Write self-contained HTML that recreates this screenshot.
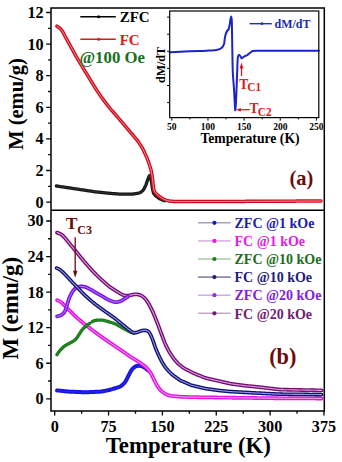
<!DOCTYPE html>
<html><head><meta charset="utf-8"><style>
html,body{margin:0;padding:0;background:#fff;width:342px;height:462px;overflow:hidden}
svg{display:block}
.b{font-family:"Liberation Serif",serif;font-weight:bold}
</style></head><body>
<svg width="342" height="462" viewBox="0 0 342 462">
<rect width="342" height="462" fill="#fff"/>
<path d="M56.4,186 L57.14,186.11 L57.88,186.22 L58.63,186.33 L59.37,186.44 L60.11,186.55 L60.85,186.65 L61.59,186.76 L62.34,186.87 L63.08,186.98 L63.82,187.09 L64.56,187.2 L65.3,187.31 L66.05,187.42 L66.79,187.53 L67.53,187.64 L68.27,187.75 L69.01,187.86 L69.75,187.98 L70.5,188.09 L71.24,188.2 L71.98,188.31 L72.72,188.42 L73.46,188.53 L74.2,188.65 L74.95,188.76 L75.69,188.87 L76.43,188.98 L77.17,189.09 L77.91,189.2 L78.65,189.32 L79.4,189.43 L80.14,189.54 L80.88,189.65 L81.62,189.76 L82.36,189.87 L83.1,189.98 L83.85,190.1 L84.59,190.21 L85.33,190.32 L86.07,190.43 L86.81,190.54 L87.55,190.65 L88.3,190.76 L89.04,190.87 L89.78,190.98 L90.52,191.1 L91.26,191.21 L92.01,191.32 L92.75,191.43 L93.49,191.54 L94.23,191.65 L94.97,191.76 L95.72,191.86 L96.46,191.95 L97.21,192.03 L97.95,192.11 L98.7,192.19 L99.44,192.26 L100.19,192.34 L100.94,192.42 L101.68,192.49 L102.43,192.57 L103.17,192.65 L103.92,192.72 L104.67,192.8 L105.41,192.88 L106.16,192.95 L106.9,193.03 L107.65,193.11 L108.4,193.18 L109.14,193.26 L109.89,193.33 L110.64,193.4 L111.38,193.46 L112.13,193.52 L112.88,193.58 L113.63,193.64 L114.37,193.7 L115.12,193.75 L115.87,193.81 L116.62,193.87 L117.37,193.92 L118.11,193.98 L118.86,194.04 L119.61,194.09 L120.36,194.14 L121.11,194.17 L121.85,194.19 L122.6,194.2 L123.35,194.2 L124.1,194.2 L124.85,194.2 L125.6,194.2 L126.35,194.2 L127.1,194.2 L127.85,194.2 L128.6,194.2 L129.35,194.2 L130.1,194.2 L130.85,194.18 L131.6,194.15 L132.35,194.08 L133.09,193.99 L133.83,193.9 L134.58,193.8 L135.32,193.69 L136.06,193.59 L136.8,193.48 L137.54,193.34 L138.27,193.18 L138.99,192.99 L139.7,192.76 L140.36,192.46 L140.98,192.08 L141.57,191.62 L142.13,191.13 L142.67,190.61 L143.17,190.07 L143.61,189.48 L143.99,188.84 L144.34,188.18 L144.67,187.51 L145,186.84 L145.32,186.16 L145.63,185.48 L145.92,184.79 L146.19,184.09 L146.44,183.38 L146.69,182.68 L146.94,181.97 L147.19,181.26 L147.44,180.55 L147.69,179.85 L147.95,179.14 L148.22,178.44 L148.5,177.75 L148.79,177.07 L149.09,176.43 L149.39,175.93 L149.67,175.74 L149.93,175.95 L150.17,176.48 L150.41,177.14 L150.64,177.85 L150.86,178.56 L151.05,179.29 L151.2,180.02 L151.33,180.76 L151.44,181.5 L151.55,182.24 L151.66,182.98 L151.77,183.72 L151.88,184.47 L151.99,185.21 L152.1,185.95 L152.22,186.69 L152.34,187.43 L152.47,188.17 L152.61,188.9 L152.75,189.64 L152.9,190.38 L153.04,191.11 L153.19,191.84 L153.37,192.56 L153.62,193.24 L153.99,193.86 L154.44,194.44 L154.94,194.98 L155.46,195.52 L156,196.04 L156.56,196.53 L157.15,197 L157.76,197.44 L158.37,197.86 L158.99,198.28 L159.62,198.68 L160.28,199.02 L160.96,199.32 L161.66,199.59 L162.37,199.85 L163.07,200.11 L163.78,200.36 L164.48,200.61 L164.95,200.78" fill="none" stroke="#151515" stroke-width="3.3" stroke-linecap="round" stroke-linejoin="round"/><path d="M56.4,186 L57.14,186.11 L57.88,186.22 L58.63,186.33 L59.37,186.44 L60.11,186.55 L60.85,186.65 L61.59,186.76 L62.34,186.87 L63.08,186.98 L63.82,187.09 L64.56,187.2 L65.3,187.31 L66.05,187.42 L66.79,187.53 L67.53,187.64 L68.27,187.75 L69.01,187.86 L69.75,187.98 L70.5,188.09 L71.24,188.2 L71.98,188.31 L72.72,188.42 L73.46,188.53 L74.2,188.65 L74.95,188.76 L75.69,188.87 L76.43,188.98 L77.17,189.09 L77.91,189.2 L78.65,189.32 L79.4,189.43 L80.14,189.54 L80.88,189.65 L81.62,189.76 L82.36,189.87 L83.1,189.98 L83.85,190.1 L84.59,190.21 L85.33,190.32 L86.07,190.43 L86.81,190.54 L87.55,190.65 L88.3,190.76 L89.04,190.87 L89.78,190.98 L90.52,191.1 L91.26,191.21 L92.01,191.32 L92.75,191.43 L93.49,191.54 L94.23,191.65 L94.97,191.76 L95.72,191.86 L96.46,191.95 L97.21,192.03 L97.95,192.11 L98.7,192.19 L99.44,192.26 L100.19,192.34 L100.94,192.42 L101.68,192.49 L102.43,192.57 L103.17,192.65 L103.92,192.72 L104.67,192.8 L105.41,192.88 L106.16,192.95 L106.9,193.03 L107.65,193.11 L108.4,193.18 L109.14,193.26 L109.89,193.33 L110.64,193.4 L111.38,193.46 L112.13,193.52 L112.88,193.58 L113.63,193.64 L114.37,193.7 L115.12,193.75 L115.87,193.81 L116.62,193.87 L117.37,193.92 L118.11,193.98 L118.86,194.04 L119.61,194.09 L120.36,194.14 L121.11,194.17 L121.85,194.19 L122.6,194.2 L123.35,194.2 L124.1,194.2 L124.85,194.2 L125.6,194.2 L126.35,194.2 L127.1,194.2 L127.85,194.2 L128.6,194.2 L129.35,194.2 L130.1,194.2 L130.85,194.18 L131.6,194.15 L132.35,194.08 L133.09,193.99 L133.83,193.9 L134.58,193.8 L135.32,193.69 L136.06,193.59 L136.8,193.48 L137.54,193.34 L138.27,193.18 L138.99,192.99 L139.7,192.76 L140.36,192.46 L140.98,192.08 L141.57,191.62 L142.13,191.13 L142.67,190.61 L143.17,190.07 L143.61,189.48 L143.99,188.84 L144.34,188.18 L144.67,187.51 L145,186.84 L145.32,186.16 L145.63,185.48 L145.92,184.79 L146.19,184.09 L146.44,183.38 L146.69,182.68 L146.94,181.97 L147.19,181.26 L147.44,180.55 L147.69,179.85 L147.95,179.14 L148.22,178.44 L148.5,177.75 L148.79,177.07 L149.09,176.43 L149.39,175.93 L149.67,175.74 L149.93,175.95 L150.17,176.48 L150.41,177.14 L150.64,177.85 L150.86,178.56 L151.05,179.29 L151.2,180.02 L151.33,180.76 L151.44,181.5 L151.55,182.24 L151.66,182.98 L151.77,183.72 L151.88,184.47 L151.99,185.21 L152.1,185.95 L152.22,186.69 L152.34,187.43 L152.47,188.17 L152.61,188.9 L152.75,189.64 L152.9,190.38 L153.04,191.11 L153.19,191.84 L153.37,192.56 L153.62,193.24 L153.99,193.86 L154.44,194.44 L154.94,194.98 L155.46,195.52 L156,196.04 L156.56,196.53 L157.15,197 L157.76,197.44 L158.37,197.86 L158.99,198.28 L159.62,198.68 L160.28,199.02 L160.96,199.32 L161.66,199.59 L162.37,199.85 L163.07,200.11 L163.78,200.36 L164.48,200.61 L164.95,200.78" fill="none" stroke="#555" stroke-width="0.8" stroke-linecap="round" stroke-linejoin="round" opacity="0.6"/>
<path d="M56.9,26.2 L57.53,26.6 L58.16,27.01 L58.78,27.42 L59.38,27.86 L59.95,28.34 L60.48,28.86 L60.98,29.41 L61.46,29.99 L61.92,30.57 L62.35,31.18 L62.75,31.81 L63.11,32.46 L63.46,33.13 L63.8,33.8 L64.13,34.47 L64.47,35.14 L64.82,35.8 L65.17,36.47 L65.52,37.12 L65.89,37.78 L66.25,38.44 L66.62,39.09 L66.98,39.75 L67.35,40.4 L67.71,41.06 L68.08,41.71 L68.44,42.37 L68.81,43.02 L69.17,43.68 L69.53,44.34 L69.89,44.99 L70.25,45.65 L70.61,46.31 L70.97,46.97 L71.33,47.62 L71.69,48.28 L72.05,48.94 L72.41,49.6 L72.77,50.26 L73.13,50.92 L73.49,51.58 L73.84,52.24 L74.2,52.89 L74.56,53.55 L74.92,54.21 L75.27,54.87 L75.64,55.53 L76,56.18 L76.37,56.83 L76.75,57.48 L77.14,58.13 L77.52,58.77 L77.91,59.41 L78.29,60.06 L78.68,60.7 L79.07,61.34 L79.45,61.99 L79.84,62.63 L80.22,63.27 L80.61,63.91 L80.99,64.56 L81.38,65.2 L81.77,65.84 L82.15,66.49 L82.54,67.13 L82.92,67.77 L83.31,68.42 L83.7,69.06 L84.09,69.7 L84.48,70.34 L84.87,70.98 L85.26,71.62 L85.65,72.26 L86.04,72.9 L86.43,73.54 L86.82,74.18 L87.21,74.82 L87.61,75.46 L88,76.1 L88.39,76.74 L88.78,77.38 L89.17,78.02 L89.56,78.66 L89.95,79.3 L90.35,79.94 L90.74,80.58 L91.13,81.22 L91.52,81.86 L91.91,82.5 L92.3,83.14 L92.69,83.78 L93.09,84.42 L93.48,85.06 L93.87,85.7 L94.26,86.34 L94.65,86.97 L95.05,87.61 L95.45,88.24 L95.86,88.87 L96.27,89.5 L96.68,90.13 L97.1,90.75 L97.52,91.37 L97.93,92 L98.35,92.62 L98.76,93.25 L99.18,93.87 L99.6,94.49 L100.02,95.12 L100.44,95.73 L100.87,96.35 L101.31,96.96 L101.75,97.56 L102.19,98.17 L102.64,98.77 L103.08,99.38 L103.52,99.98 L103.97,100.59 L104.41,101.19 L104.86,101.79 L105.31,102.39 L105.77,102.99 L106.23,103.58 L106.69,104.17 L107.15,104.76 L107.62,105.35 L108.08,105.94 L108.54,106.53 L109.01,107.12 L109.47,107.71 L109.94,108.29 L110.41,108.88 L110.88,109.46 L111.37,110.03 L111.86,110.59 L112.36,111.16 L112.85,111.72 L113.35,112.28 L113.85,112.84 L114.34,113.4 L114.84,113.97 L115.34,114.53 L115.84,115.09 L116.33,115.65 L116.83,116.21 L117.33,116.77 L117.82,117.34 L118.31,117.9 L118.8,118.47 L119.29,119.04 L119.77,119.61 L120.26,120.19 L120.74,120.76 L121.22,121.34 L121.71,121.91 L122.19,122.48 L122.67,123.06 L123.16,123.63 L123.64,124.2 L124.12,124.78 L124.61,125.35 L125.09,125.92 L125.58,126.49 L126.06,127.06 L126.55,127.63 L127.04,128.21 L127.53,128.78 L128.01,129.35 L128.5,129.92 L128.99,130.49 L129.47,131.06 L129.96,131.63 L130.45,132.2 L130.93,132.77 L131.42,133.34 L131.9,133.91 L132.38,134.49 L132.86,135.07 L133.34,135.64 L133.82,136.22 L134.3,136.8 L134.78,137.37 L135.26,137.95 L135.74,138.53 L136.21,139.11 L136.69,139.69 L137.16,140.27 L137.61,140.87 L138.05,141.47 L138.48,142.09 L138.9,142.71 L139.31,143.34 L139.73,143.96 L140.14,144.59 L140.55,145.21 L140.97,145.84 L141.38,146.47 L141.78,147.1 L142.17,147.74 L142.53,148.39 L142.87,149.06 L143.2,149.73 L143.52,150.41 L143.83,151.09 L144.15,151.77 L144.47,152.45 L144.78,153.13 L145.1,153.81 L145.41,154.49 L145.73,155.17 L146.04,155.85 L146.35,156.54 L146.66,157.22 L146.95,157.91 L147.22,158.61 L147.49,159.31 L147.75,160.01 L148.01,160.72 L148.27,161.42 L148.53,162.12 L148.79,162.83 L149.04,163.53 L149.28,164.24 L149.51,164.96 L149.73,165.67 L149.95,166.39 L150.16,167.11 L150.37,167.83 L150.58,168.55 L150.78,169.27 L150.97,170 L151.14,170.73 L151.3,171.46 L151.44,172.2 L151.57,172.93 L151.7,173.67 L151.84,174.41 L151.97,175.15 L152.09,175.89 L152.21,176.63 L152.32,177.37 L152.42,178.11 L152.51,178.86 L152.6,179.6 L152.68,180.35 L152.77,181.09 L152.85,181.84 L152.94,182.58 L153.02,183.33 L153.11,184.07 L153.19,184.82 L153.27,185.56 L153.36,186.31 L153.44,187.05 L153.53,187.8 L153.62,188.54 L153.74,189.27 L153.92,189.98 L154.18,190.66 L154.51,191.32 L154.9,191.96 L155.32,192.57 L155.77,193.15 L156.27,193.71 L156.8,194.22 L157.36,194.72 L157.93,195.21 L158.5,195.7 L159.08,196.17 L159.67,196.63 L160.27,197.07 L160.89,197.49 L161.52,197.9 L162.16,198.29 L162.8,198.68 L163.44,199.06 L164.1,199.41 L164.78,199.72 L165.47,199.98 L166.19,200.2 L166.91,200.39 L167.63,200.58 L168.36,200.77 L169.09,200.94 L169.82,201.1 L170.55,201.21 L171.3,201.29 L172.04,201.34 L172.79,201.37 L173.54,201.4 L174.29,201.42 L175.04,201.45 L175.79,201.47 L176.54,201.5 L177.29,201.52 L178.04,201.54 L178.79,201.56 L179.54,201.58 L180.29,201.59 L181.04,201.59 L181.79,201.59 L182.54,201.59 L183.29,201.59 L184.04,201.59 L184.79,201.58 L185.54,201.58 L186.29,201.58 L187.04,201.58 L187.79,201.57 L188.54,201.57 L189.29,201.57 L190.04,201.57 L190.79,201.56 L191.54,201.56 L192.29,201.56 L193.04,201.56 L193.79,201.55 L194.54,201.55 L195.29,201.55 L196.04,201.55 L196.79,201.54 L197.54,201.54 L198.29,201.54 L199.04,201.54 L199.79,201.53 L200.54,201.53 L201.29,201.53 L202.04,201.53 L202.79,201.52 L203.54,201.52 L204.29,201.52 L205.04,201.52 L205.79,201.51 L206.54,201.51 L207.29,201.51 L208.04,201.51 L208.79,201.5 L209.54,201.5 L210.29,201.5 L211.04,201.5 L211.79,201.49 L212.54,201.49 L213.29,201.49 L214.04,201.49 L214.79,201.48 L215.54,201.48 L216.29,201.48 L217.04,201.48 L217.79,201.47 L218.54,201.47 L219.29,201.47 L220.04,201.47 L220.79,201.46 L221.54,201.46 L222.29,201.46 L223.04,201.46 L223.79,201.45 L224.54,201.45 L225.29,201.45 L226.04,201.45 L226.79,201.44 L227.54,201.44 L228.29,201.44 L229.04,201.44 L229.79,201.43 L230.54,201.43 L231.29,201.43 L232.04,201.43 L232.79,201.42 L233.54,201.42 L234.29,201.42 L235.04,201.42 L235.79,201.41 L236.54,201.41 L237.29,201.41 L238.04,201.41 L238.79,201.4 L239.54,201.4 L240.29,201.4 L241.04,201.39 L241.79,201.39 L242.54,201.39 L243.29,201.38 L244.04,201.38 L244.79,201.38 L245.54,201.37 L246.29,201.37 L247.04,201.37 L247.79,201.36 L248.54,201.36 L249.29,201.35 L250.04,201.35 L250.79,201.35 L251.54,201.34 L252.29,201.34 L253.04,201.34 L253.79,201.33 L254.54,201.33 L255.29,201.32 L256.04,201.32 L256.79,201.32 L257.54,201.31 L258.29,201.31 L259.04,201.31 L259.79,201.3 L260.54,201.3 L261.29,201.3 L262.04,201.29 L262.79,201.29 L263.54,201.28 L264.29,201.28 L265.04,201.28 L265.79,201.27 L266.54,201.27 L267.29,201.27 L268.04,201.26 L268.79,201.26 L269.54,201.25 L270.29,201.25 L271.04,201.25 L271.79,201.24 L272.54,201.24 L273.29,201.24 L274.04,201.23 L274.79,201.23 L275.54,201.22 L276.29,201.22 L277.04,201.22 L277.79,201.21 L278.54,201.21 L279.29,201.21 L280.04,201.2 L280.79,201.2 L281.54,201.2 L282.29,201.19 L283.04,201.19 L283.78,201.18 L284.53,201.18 L285.28,201.18 L286.03,201.17 L286.78,201.17 L287.53,201.17 L288.28,201.16 L289.03,201.16 L289.78,201.15 L290.53,201.15 L291.28,201.15 L292.03,201.14 L292.78,201.14 L293.53,201.14 L294.28,201.13 L295.03,201.13 L295.78,201.13 L296.53,201.12 L297.28,201.12 L298.03,201.11 L298.78,201.11 L299.53,201.11 L300.28,201.1 L301.03,201.1 L301.78,201.1 L302.53,201.09 L303.28,201.09 L304.03,201.08 L304.78,201.08 L305.53,201.08 L306.28,201.07 L307.03,201.07 L307.78,201.07 L308.53,201.06 L309.28,201.06 L310.03,201.06 L310.78,201.05 L311.53,201.05 L312.28,201.04 L313.03,201.04 L313.78,201.04 L314.53,201.03 L315.28,201.03 L316.03,201.03 L316.78,201.02 L317.53,201.02 L318.28,201.01 L319.03,201.01 L319.78,201.01 L320.53,201 L321.03,201" fill="none" stroke="#d00a1a" stroke-width="3.5" stroke-linecap="round" stroke-linejoin="round"/><path d="M56.9,26.2 L57.53,26.6 L58.16,27.01 L58.78,27.42 L59.38,27.86 L59.95,28.34 L60.48,28.86 L60.98,29.41 L61.46,29.99 L61.92,30.57 L62.35,31.18 L62.75,31.81 L63.11,32.46 L63.46,33.13 L63.8,33.8 L64.13,34.47 L64.47,35.14 L64.82,35.8 L65.17,36.47 L65.52,37.12 L65.89,37.78 L66.25,38.44 L66.62,39.09 L66.98,39.75 L67.35,40.4 L67.71,41.06 L68.08,41.71 L68.44,42.37 L68.81,43.02 L69.17,43.68 L69.53,44.34 L69.89,44.99 L70.25,45.65 L70.61,46.31 L70.97,46.97 L71.33,47.62 L71.69,48.28 L72.05,48.94 L72.41,49.6 L72.77,50.26 L73.13,50.92 L73.49,51.58 L73.84,52.24 L74.2,52.89 L74.56,53.55 L74.92,54.21 L75.27,54.87 L75.64,55.53 L76,56.18 L76.37,56.83 L76.75,57.48 L77.14,58.13 L77.52,58.77 L77.91,59.41 L78.29,60.06 L78.68,60.7 L79.07,61.34 L79.45,61.99 L79.84,62.63 L80.22,63.27 L80.61,63.91 L80.99,64.56 L81.38,65.2 L81.77,65.84 L82.15,66.49 L82.54,67.13 L82.92,67.77 L83.31,68.42 L83.7,69.06 L84.09,69.7 L84.48,70.34 L84.87,70.98 L85.26,71.62 L85.65,72.26 L86.04,72.9 L86.43,73.54 L86.82,74.18 L87.21,74.82 L87.61,75.46 L88,76.1 L88.39,76.74 L88.78,77.38 L89.17,78.02 L89.56,78.66 L89.95,79.3 L90.35,79.94 L90.74,80.58 L91.13,81.22 L91.52,81.86 L91.91,82.5 L92.3,83.14 L92.69,83.78 L93.09,84.42 L93.48,85.06 L93.87,85.7 L94.26,86.34 L94.65,86.97 L95.05,87.61 L95.45,88.24 L95.86,88.87 L96.27,89.5 L96.68,90.13 L97.1,90.75 L97.52,91.37 L97.93,92 L98.35,92.62 L98.76,93.25 L99.18,93.87 L99.6,94.49 L100.02,95.12 L100.44,95.73 L100.87,96.35 L101.31,96.96 L101.75,97.56 L102.19,98.17 L102.64,98.77 L103.08,99.38 L103.52,99.98 L103.97,100.59 L104.41,101.19 L104.86,101.79 L105.31,102.39 L105.77,102.99 L106.23,103.58 L106.69,104.17 L107.15,104.76 L107.62,105.35 L108.08,105.94 L108.54,106.53 L109.01,107.12 L109.47,107.71 L109.94,108.29 L110.41,108.88 L110.88,109.46 L111.37,110.03 L111.86,110.59 L112.36,111.16 L112.85,111.72 L113.35,112.28 L113.85,112.84 L114.34,113.4 L114.84,113.97 L115.34,114.53 L115.84,115.09 L116.33,115.65 L116.83,116.21 L117.33,116.77 L117.82,117.34 L118.31,117.9 L118.8,118.47 L119.29,119.04 L119.77,119.61 L120.26,120.19 L120.74,120.76 L121.22,121.34 L121.71,121.91 L122.19,122.48 L122.67,123.06 L123.16,123.63 L123.64,124.2 L124.12,124.78 L124.61,125.35 L125.09,125.92 L125.58,126.49 L126.06,127.06 L126.55,127.63 L127.04,128.21 L127.53,128.78 L128.01,129.35 L128.5,129.92 L128.99,130.49 L129.47,131.06 L129.96,131.63 L130.45,132.2 L130.93,132.77 L131.42,133.34 L131.9,133.91 L132.38,134.49 L132.86,135.07 L133.34,135.64 L133.82,136.22 L134.3,136.8 L134.78,137.37 L135.26,137.95 L135.74,138.53 L136.21,139.11 L136.69,139.69 L137.16,140.27 L137.61,140.87 L138.05,141.47 L138.48,142.09 L138.9,142.71 L139.31,143.34 L139.73,143.96 L140.14,144.59 L140.55,145.21 L140.97,145.84 L141.38,146.47 L141.78,147.1 L142.17,147.74 L142.53,148.39 L142.87,149.06 L143.2,149.73 L143.52,150.41 L143.83,151.09 L144.15,151.77 L144.47,152.45 L144.78,153.13 L145.1,153.81 L145.41,154.49 L145.73,155.17 L146.04,155.85 L146.35,156.54 L146.66,157.22 L146.95,157.91 L147.22,158.61 L147.49,159.31 L147.75,160.01 L148.01,160.72 L148.27,161.42 L148.53,162.12 L148.79,162.83 L149.04,163.53 L149.28,164.24 L149.51,164.96 L149.73,165.67 L149.95,166.39 L150.16,167.11 L150.37,167.83 L150.58,168.55 L150.78,169.27 L150.97,170 L151.14,170.73 L151.3,171.46 L151.44,172.2 L151.57,172.93 L151.7,173.67 L151.84,174.41 L151.97,175.15 L152.09,175.89 L152.21,176.63 L152.32,177.37 L152.42,178.11 L152.51,178.86 L152.6,179.6 L152.68,180.35 L152.77,181.09 L152.85,181.84 L152.94,182.58 L153.02,183.33 L153.11,184.07 L153.19,184.82 L153.27,185.56 L153.36,186.31 L153.44,187.05 L153.53,187.8 L153.62,188.54 L153.74,189.27 L153.92,189.98 L154.18,190.66 L154.51,191.32 L154.9,191.96 L155.32,192.57 L155.77,193.15 L156.27,193.71 L156.8,194.22 L157.36,194.72 L157.93,195.21 L158.5,195.7 L159.08,196.17 L159.67,196.63 L160.27,197.07 L160.89,197.49 L161.52,197.9 L162.16,198.29 L162.8,198.68 L163.44,199.06 L164.1,199.41 L164.78,199.72 L165.47,199.98 L166.19,200.2 L166.91,200.39 L167.63,200.58 L168.36,200.77 L169.09,200.94 L169.82,201.1 L170.55,201.21 L171.3,201.29 L172.04,201.34 L172.79,201.37 L173.54,201.4 L174.29,201.42 L175.04,201.45 L175.79,201.47 L176.54,201.5 L177.29,201.52 L178.04,201.54 L178.79,201.56 L179.54,201.58 L180.29,201.59 L181.04,201.59 L181.79,201.59 L182.54,201.59 L183.29,201.59 L184.04,201.59 L184.79,201.58 L185.54,201.58 L186.29,201.58 L187.04,201.58 L187.79,201.57 L188.54,201.57 L189.29,201.57 L190.04,201.57 L190.79,201.56 L191.54,201.56 L192.29,201.56 L193.04,201.56 L193.79,201.55 L194.54,201.55 L195.29,201.55 L196.04,201.55 L196.79,201.54 L197.54,201.54 L198.29,201.54 L199.04,201.54 L199.79,201.53 L200.54,201.53 L201.29,201.53 L202.04,201.53 L202.79,201.52 L203.54,201.52 L204.29,201.52 L205.04,201.52 L205.79,201.51 L206.54,201.51 L207.29,201.51 L208.04,201.51 L208.79,201.5 L209.54,201.5 L210.29,201.5 L211.04,201.5 L211.79,201.49 L212.54,201.49 L213.29,201.49 L214.04,201.49 L214.79,201.48 L215.54,201.48 L216.29,201.48 L217.04,201.48 L217.79,201.47 L218.54,201.47 L219.29,201.47 L220.04,201.47 L220.79,201.46 L221.54,201.46 L222.29,201.46 L223.04,201.46 L223.79,201.45 L224.54,201.45 L225.29,201.45 L226.04,201.45 L226.79,201.44 L227.54,201.44 L228.29,201.44 L229.04,201.44 L229.79,201.43 L230.54,201.43 L231.29,201.43 L232.04,201.43 L232.79,201.42 L233.54,201.42 L234.29,201.42 L235.04,201.42 L235.79,201.41 L236.54,201.41 L237.29,201.41 L238.04,201.41 L238.79,201.4 L239.54,201.4 L240.29,201.4 L241.04,201.39 L241.79,201.39 L242.54,201.39 L243.29,201.38 L244.04,201.38 L244.79,201.38 L245.54,201.37 L246.29,201.37 L247.04,201.37 L247.79,201.36 L248.54,201.36 L249.29,201.35 L250.04,201.35 L250.79,201.35 L251.54,201.34 L252.29,201.34 L253.04,201.34 L253.79,201.33 L254.54,201.33 L255.29,201.32 L256.04,201.32 L256.79,201.32 L257.54,201.31 L258.29,201.31 L259.04,201.31 L259.79,201.3 L260.54,201.3 L261.29,201.3 L262.04,201.29 L262.79,201.29 L263.54,201.28 L264.29,201.28 L265.04,201.28 L265.79,201.27 L266.54,201.27 L267.29,201.27 L268.04,201.26 L268.79,201.26 L269.54,201.25 L270.29,201.25 L271.04,201.25 L271.79,201.24 L272.54,201.24 L273.29,201.24 L274.04,201.23 L274.79,201.23 L275.54,201.22 L276.29,201.22 L277.04,201.22 L277.79,201.21 L278.54,201.21 L279.29,201.21 L280.04,201.2 L280.79,201.2 L281.54,201.2 L282.29,201.19 L283.04,201.19 L283.78,201.18 L284.53,201.18 L285.28,201.18 L286.03,201.17 L286.78,201.17 L287.53,201.17 L288.28,201.16 L289.03,201.16 L289.78,201.15 L290.53,201.15 L291.28,201.15 L292.03,201.14 L292.78,201.14 L293.53,201.14 L294.28,201.13 L295.03,201.13 L295.78,201.13 L296.53,201.12 L297.28,201.12 L298.03,201.11 L298.78,201.11 L299.53,201.11 L300.28,201.1 L301.03,201.1 L301.78,201.1 L302.53,201.09 L303.28,201.09 L304.03,201.08 L304.78,201.08 L305.53,201.08 L306.28,201.07 L307.03,201.07 L307.78,201.07 L308.53,201.06 L309.28,201.06 L310.03,201.06 L310.78,201.05 L311.53,201.05 L312.28,201.04 L313.03,201.04 L313.78,201.04 L314.53,201.03 L315.28,201.03 L316.03,201.03 L316.78,201.02 L317.53,201.02 L318.28,201.01 L319.03,201.01 L319.78,201.01 L320.53,201 L321.03,201" fill="none" stroke="#f4a8b0" stroke-width="1.0" stroke-linecap="round" stroke-linejoin="round" opacity="1.0"/>
<path d="M57,390.4 L57.75,390.48 L58.49,390.55 L59.24,390.63 L59.98,390.71 L60.73,390.78 L61.48,390.86 L62.22,390.94 L62.97,391.01 L63.71,391.09 L64.46,391.17 L65.21,391.24 L65.95,391.32 L66.7,391.39 L67.45,391.46 L68.19,391.52 L68.94,391.58 L69.69,391.63 L70.44,391.67 L71.19,391.7 L71.94,391.74 L72.69,391.77 L73.43,391.8 L74.18,391.83 L74.93,391.87 L75.68,391.9 L76.43,391.93 L77.18,391.96 L77.93,391.99 L78.68,392.03 L79.43,392.06 L80.18,392.09 L80.93,392.12 L81.68,392.15 L82.43,392.18 L83.18,392.21 L83.92,392.23 L84.67,392.24 L85.42,392.24 L86.17,392.23 L86.92,392.21 L87.67,392.19 L88.42,392.16 L89.17,392.13 L89.92,392.09 L90.67,392.06 L91.42,392.03 L92.17,392 L92.92,391.97 L93.67,391.93 L94.42,391.9 L95.16,391.87 L95.91,391.84 L96.66,391.81 L97.41,391.77 L98.16,391.74 L98.91,391.7 L99.66,391.66 L100.4,391.61 L101.15,391.54 L101.89,391.44 L102.63,391.32 L103.37,391.19 L104.1,391.04 L104.83,390.89 L105.57,390.74 L106.3,390.58 L107.04,390.43 L107.77,390.27 L108.5,390.11 L109.23,389.94 L109.96,389.76 L110.68,389.57 L111.41,389.36 L112.13,389.16 L112.84,388.94 L113.56,388.73 L114.28,388.51 L115,388.28 L115.71,388.06 L116.42,387.83 L117.14,387.6 L117.85,387.36 L118.55,387.11 L119.25,386.85 L119.92,386.55 L120.57,386.21 L121.18,385.81 L121.77,385.37 L122.34,384.89 L122.89,384.39 L123.42,383.87 L123.95,383.34 L124.45,382.79 L124.92,382.22 L125.35,381.62 L125.75,380.99 L126.12,380.35 L126.47,379.69 L126.81,379.02 L127.15,378.35 L127.49,377.69 L127.83,377.02 L128.17,376.35 L128.51,375.68 L128.85,375.01 L129.18,374.34 L129.52,373.67 L129.86,373 L130.2,372.34 L130.57,371.68 L130.95,371.04 L131.36,370.42 L131.8,369.83 L132.27,369.25 L132.76,368.69 L133.27,368.15 L133.8,367.64 L134.36,367.17 L134.95,366.77 L135.59,366.44 L136.27,366.18 L136.97,365.98 L137.68,365.85 L138.41,365.77 L139.14,365.77 L139.87,365.83 L140.6,365.94 L141.32,366.1 L142.03,366.32 L142.72,366.57 L143.4,366.88 L144.05,367.23 L144.68,367.62 L145.28,368.05 L145.86,368.51 L146.42,369.01 L146.97,369.51 L147.51,370.03 L147.87,370.38" fill="none" stroke="#1414dc" stroke-width="4.0" stroke-linecap="round" stroke-linejoin="round"/><path d="M57,390.4 L57.75,390.48 L58.49,390.55 L59.24,390.63 L59.98,390.71 L60.73,390.78 L61.48,390.86 L62.22,390.94 L62.97,391.01 L63.71,391.09 L64.46,391.17 L65.21,391.24 L65.95,391.32 L66.7,391.39 L67.45,391.46 L68.19,391.52 L68.94,391.58 L69.69,391.63 L70.44,391.67 L71.19,391.7 L71.94,391.74 L72.69,391.77 L73.43,391.8 L74.18,391.83 L74.93,391.87 L75.68,391.9 L76.43,391.93 L77.18,391.96 L77.93,391.99 L78.68,392.03 L79.43,392.06 L80.18,392.09 L80.93,392.12 L81.68,392.15 L82.43,392.18 L83.18,392.21 L83.92,392.23 L84.67,392.24 L85.42,392.24 L86.17,392.23 L86.92,392.21 L87.67,392.19 L88.42,392.16 L89.17,392.13 L89.92,392.09 L90.67,392.06 L91.42,392.03 L92.17,392 L92.92,391.97 L93.67,391.93 L94.42,391.9 L95.16,391.87 L95.91,391.84 L96.66,391.81 L97.41,391.77 L98.16,391.74 L98.91,391.7 L99.66,391.66 L100.4,391.61 L101.15,391.54 L101.89,391.44 L102.63,391.32 L103.37,391.19 L104.1,391.04 L104.83,390.89 L105.57,390.74 L106.3,390.58 L107.04,390.43 L107.77,390.27 L108.5,390.11 L109.23,389.94 L109.96,389.76 L110.68,389.57 L111.41,389.36 L112.13,389.16 L112.84,388.94 L113.56,388.73 L114.28,388.51 L115,388.28 L115.71,388.06 L116.42,387.83 L117.14,387.6 L117.85,387.36 L118.55,387.11 L119.25,386.85 L119.92,386.55 L120.57,386.21 L121.18,385.81 L121.77,385.37 L122.34,384.89 L122.89,384.39 L123.42,383.87 L123.95,383.34 L124.45,382.79 L124.92,382.22 L125.35,381.62 L125.75,380.99 L126.12,380.35 L126.47,379.69 L126.81,379.02 L127.15,378.35 L127.49,377.69 L127.83,377.02 L128.17,376.35 L128.51,375.68 L128.85,375.01 L129.18,374.34 L129.52,373.67 L129.86,373 L130.2,372.34 L130.57,371.68 L130.95,371.04 L131.36,370.42 L131.8,369.83 L132.27,369.25 L132.76,368.69 L133.27,368.15 L133.8,367.64 L134.36,367.17 L134.95,366.77 L135.59,366.44 L136.27,366.18 L136.97,365.98 L137.68,365.85 L138.41,365.77 L139.14,365.77 L139.87,365.83 L140.6,365.94 L141.32,366.1 L142.03,366.32 L142.72,366.57 L143.4,366.88 L144.05,367.23 L144.68,367.62 L145.28,368.05 L145.86,368.51 L146.42,369.01 L146.97,369.51 L147.51,370.03 L147.87,370.38" fill="none" stroke="#4848f0" stroke-width="1.0" stroke-linecap="round" stroke-linejoin="round" opacity="0.5"/>
<path d="M57.1,300.2 L57.79,300.49 L58.48,300.78 L59.16,301.08 L59.82,301.42 L60.46,301.79 L61.06,302.21 L61.63,302.67 L62.18,303.17 L62.72,303.69 L63.25,304.22 L63.77,304.75 L64.3,305.28 L64.82,305.82 L65.35,306.35 L65.88,306.88 L66.41,307.41 L66.94,307.94 L67.47,308.47 L68,309 L68.53,309.53 L69.07,310.06 L69.6,310.59 L70.13,311.12 L70.66,311.65 L71.2,312.17 L71.73,312.7 L72.26,313.23 L72.8,313.75 L73.33,314.28 L73.87,314.81 L74.4,315.33 L74.94,315.86 L75.47,316.38 L76.01,316.9 L76.56,317.41 L77.12,317.92 L77.68,318.41 L78.25,318.9 L78.82,319.38 L79.4,319.86 L79.98,320.33 L80.56,320.81 L81.14,321.28 L81.72,321.76 L82.3,322.24 L82.88,322.71 L83.46,323.18 L84.05,323.66 L84.63,324.12 L85.22,324.59 L85.81,325.05 L86.4,325.52 L86.99,325.98 L87.58,326.44 L88.17,326.9 L88.76,327.36 L89.35,327.82 L89.95,328.28 L90.54,328.74 L91.13,329.2 L91.73,329.65 L92.33,330.11 L92.93,330.56 L93.53,331 L94.13,331.45 L94.74,331.9 L95.34,332.34 L95.94,332.79 L96.54,333.24 L97.15,333.68 L97.75,334.13 L98.35,334.58 L98.96,335.02 L99.56,335.46 L100.17,335.9 L100.78,336.33 L101.4,336.77 L102.01,337.2 L102.62,337.62 L103.24,338.05 L103.86,338.48 L104.47,338.91 L105.09,339.34 L105.7,339.77 L106.32,340.19 L106.94,340.62 L107.55,341.05 L108.17,341.48 L108.78,341.91 L109.4,342.33 L110.02,342.76 L110.64,343.18 L111.26,343.6 L111.88,344.02 L112.5,344.44 L113.12,344.86 L113.74,345.28 L114.36,345.7 L114.99,346.12 L115.61,346.54 L116.23,346.96 L116.85,347.38 L117.48,347.8 L118.1,348.21 L118.72,348.63 L119.34,349.05 L119.96,349.47 L120.58,349.9 L121.2,350.32 L121.82,350.75 L122.43,351.17 L123.05,351.6 L123.67,352.03 L124.28,352.46 L124.9,352.89 L125.51,353.32 L126.13,353.75 L126.74,354.18 L127.36,354.61 L127.97,355.03 L128.59,355.46 L129.2,355.89 L129.83,356.31 L130.45,356.72 L131.08,357.13 L131.71,357.53 L132.35,357.93 L132.99,358.32 L133.63,358.71 L134.27,359.1 L134.91,359.49 L135.55,359.88 L136.19,360.28 L136.83,360.67 L137.47,361.06 L138.1,361.46 L138.73,361.86 L139.36,362.27 L139.98,362.69 L140.6,363.11 L141.21,363.55 L141.82,363.99 L142.43,364.43 L143.03,364.87 L143.64,365.31 L144.23,365.77 L144.81,366.23 L145.38,366.72 L145.92,367.23 L146.44,367.76 L146.95,368.31 L147.44,368.88 L147.92,369.45 L148.41,370.02 L148.88,370.6 L149.35,371.18 L149.81,371.77 L150.24,372.38 L150.64,373.01 L151.01,373.65 L151.37,374.31 L151.71,374.98 L152.05,375.65 L152.38,376.32 L152.71,376.99 L153.04,377.66 L153.37,378.34 L153.71,379.01 L154.04,379.68 L154.38,380.35 L154.71,381.02 L155.05,381.69 L155.38,382.36 L155.72,383.03 L156.07,383.69 L156.43,384.35 L156.8,385 L157.19,385.64 L157.6,386.27 L158.02,386.89 L158.44,387.51 L158.87,388.12 L159.31,388.72 L159.77,389.31 L160.26,389.87 L160.77,390.41 L161.31,390.92 L161.87,391.41 L162.45,391.88 L163.04,392.34 L163.64,392.79 L164.25,393.21 L164.88,393.61 L165.53,393.97 L166.19,394.29 L166.88,394.58 L167.57,394.86 L168.27,395.11 L168.98,395.35 L169.7,395.55 L170.42,395.72 L171.15,395.86 L171.89,395.97 L172.64,396.05 L173.38,396.14 L174.13,396.21 L174.87,396.29 L175.62,396.36 L176.36,396.44 L177.11,396.51 L177.86,396.58 L178.6,396.65 L179.35,396.71 L180.1,396.76 L180.85,396.8 L181.6,396.83 L182.35,396.85 L183.1,396.88 L183.85,396.9 L184.6,396.91 L185.35,396.93 L186.09,396.95 L186.84,396.97 L187.59,396.99 L188.34,397.01 L189.09,397.03 L189.84,397.05 L190.59,397.06 L191.34,397.08 L192.09,397.1 L192.84,397.12 L193.59,397.14 L194.34,397.16 L195.09,397.18 L195.84,397.2 L196.59,397.21 L197.34,397.23 L198.09,397.25 L198.84,397.27 L199.59,397.28 L200.34,397.3 L201.09,397.31 L201.84,397.32 L202.59,397.33 L203.34,397.34 L204.09,397.35 L204.84,397.36 L205.59,397.37 L206.34,397.38 L207.09,397.39 L207.84,397.4 L208.59,397.41 L209.34,397.42 L210.09,397.43 L210.84,397.44 L211.59,397.45 L212.34,397.46 L213.09,397.47 L213.84,397.48 L214.59,397.49 L215.34,397.5 L216.09,397.51 L216.84,397.52 L217.59,397.53 L218.34,397.54 L219.09,397.55 L219.84,397.56 L220.59,397.57 L221.34,397.58 L222.09,397.59 L222.84,397.6 L223.59,397.61 L224.34,397.62 L225.09,397.63 L225.84,397.64 L226.59,397.65 L227.34,397.66 L228.09,397.67 L228.84,397.68 L229.59,397.69 L230.34,397.7 L231.09,397.71 L231.84,397.72 L232.59,397.73 L233.34,397.74 L234.09,397.75 L234.84,397.76 L235.59,397.77 L236.34,397.78 L237.09,397.79 L237.84,397.79 L238.59,397.8 L239.34,397.81 L240.09,397.82 L240.84,397.83 L241.59,397.84 L242.34,397.85 L243.09,397.86 L243.84,397.87 L244.59,397.88 L245.34,397.88 L246.09,397.89 L246.84,397.9 L247.59,397.91 L248.34,397.92 L249.09,397.93 L249.84,397.94 L250.59,397.95 L251.34,397.96 L252.09,397.97 L252.84,397.97 L253.59,397.98 L254.34,397.99 L255.09,398 L255.84,398.01 L256.59,398.02 L257.34,398.03 L258.09,398.04 L258.84,398.05 L259.59,398.06 L260.34,398.06 L261.09,398.07 L261.84,398.08 L262.59,398.09 L263.34,398.1 L264.09,398.11 L264.84,398.12 L265.59,398.13 L266.34,398.14 L267.09,398.15 L267.84,398.15 L268.59,398.16 L269.34,398.17 L270.09,398.18 L270.83,398.19 L271.58,398.2 L272.33,398.21 L273.08,398.22 L273.83,398.23 L274.58,398.24 L275.33,398.24 L276.08,398.25 L276.83,398.26 L277.58,398.27 L278.33,398.28 L279.08,398.29 L279.83,398.29 L280.58,398.3 L281.33,398.31 L282.08,398.31 L282.83,398.31 L283.58,398.32 L284.33,398.32 L285.08,398.32 L285.83,398.33 L286.58,398.33 L287.33,398.34 L288.08,398.34 L288.83,398.34 L289.58,398.35 L290.33,398.35 L291.08,398.35 L291.83,398.36 L292.58,398.36 L293.33,398.36 L294.08,398.37 L294.83,398.37 L295.58,398.37 L296.33,398.38 L297.08,398.38 L297.83,398.39 L298.58,398.39 L299.33,398.39 L300.08,398.4 L300.83,398.4 L301.58,398.4 L302.33,398.41 L303.08,398.41 L303.83,398.41 L304.58,398.42 L305.33,398.42 L306.08,398.43 L306.83,398.43 L307.58,398.43 L308.33,398.44 L309.08,398.44 L309.83,398.44 L310.58,398.45 L311.33,398.45 L312.08,398.45 L312.83,398.46 L313.58,398.46 L314.33,398.46 L315.08,398.47 L315.83,398.47 L316.58,398.48 L317.33,398.48 L318.08,398.48 L318.83,398.49 L319.58,398.49 L320.33,398.49 L321.08,398.5 L321.58,398.5" fill="none" stroke="#e018e0" stroke-width="3.8" stroke-linecap="round" stroke-linejoin="round"/><path d="M57.1,300.2 L57.79,300.49 L58.48,300.78 L59.16,301.08 L59.82,301.42 L60.46,301.79 L61.06,302.21 L61.63,302.67 L62.18,303.17 L62.72,303.69 L63.25,304.22 L63.77,304.75 L64.3,305.28 L64.82,305.82 L65.35,306.35 L65.88,306.88 L66.41,307.41 L66.94,307.94 L67.47,308.47 L68,309 L68.53,309.53 L69.07,310.06 L69.6,310.59 L70.13,311.12 L70.66,311.65 L71.2,312.17 L71.73,312.7 L72.26,313.23 L72.8,313.75 L73.33,314.28 L73.87,314.81 L74.4,315.33 L74.94,315.86 L75.47,316.38 L76.01,316.9 L76.56,317.41 L77.12,317.92 L77.68,318.41 L78.25,318.9 L78.82,319.38 L79.4,319.86 L79.98,320.33 L80.56,320.81 L81.14,321.28 L81.72,321.76 L82.3,322.24 L82.88,322.71 L83.46,323.18 L84.05,323.66 L84.63,324.12 L85.22,324.59 L85.81,325.05 L86.4,325.52 L86.99,325.98 L87.58,326.44 L88.17,326.9 L88.76,327.36 L89.35,327.82 L89.95,328.28 L90.54,328.74 L91.13,329.2 L91.73,329.65 L92.33,330.11 L92.93,330.56 L93.53,331 L94.13,331.45 L94.74,331.9 L95.34,332.34 L95.94,332.79 L96.54,333.24 L97.15,333.68 L97.75,334.13 L98.35,334.58 L98.96,335.02 L99.56,335.46 L100.17,335.9 L100.78,336.33 L101.4,336.77 L102.01,337.2 L102.62,337.62 L103.24,338.05 L103.86,338.48 L104.47,338.91 L105.09,339.34 L105.7,339.77 L106.32,340.19 L106.94,340.62 L107.55,341.05 L108.17,341.48 L108.78,341.91 L109.4,342.33 L110.02,342.76 L110.64,343.18 L111.26,343.6 L111.88,344.02 L112.5,344.44 L113.12,344.86 L113.74,345.28 L114.36,345.7 L114.99,346.12 L115.61,346.54 L116.23,346.96 L116.85,347.38 L117.48,347.8 L118.1,348.21 L118.72,348.63 L119.34,349.05 L119.96,349.47 L120.58,349.9 L121.2,350.32 L121.82,350.75 L122.43,351.17 L123.05,351.6 L123.67,352.03 L124.28,352.46 L124.9,352.89 L125.51,353.32 L126.13,353.75 L126.74,354.18 L127.36,354.61 L127.97,355.03 L128.59,355.46 L129.2,355.89 L129.83,356.31 L130.45,356.72 L131.08,357.13 L131.71,357.53 L132.35,357.93 L132.99,358.32 L133.63,358.71 L134.27,359.1 L134.91,359.49 L135.55,359.88 L136.19,360.28 L136.83,360.67 L137.47,361.06 L138.1,361.46 L138.73,361.86 L139.36,362.27 L139.98,362.69 L140.6,363.11 L141.21,363.55 L141.82,363.99 L142.43,364.43 L143.03,364.87 L143.64,365.31 L144.23,365.77 L144.81,366.23 L145.38,366.72 L145.92,367.23 L146.44,367.76 L146.95,368.31 L147.44,368.88 L147.92,369.45 L148.41,370.02 L148.88,370.6 L149.35,371.18 L149.81,371.77 L150.24,372.38 L150.64,373.01 L151.01,373.65 L151.37,374.31 L151.71,374.98 L152.05,375.65 L152.38,376.32 L152.71,376.99 L153.04,377.66 L153.37,378.34 L153.71,379.01 L154.04,379.68 L154.38,380.35 L154.71,381.02 L155.05,381.69 L155.38,382.36 L155.72,383.03 L156.07,383.69 L156.43,384.35 L156.8,385 L157.19,385.64 L157.6,386.27 L158.02,386.89 L158.44,387.51 L158.87,388.12 L159.31,388.72 L159.77,389.31 L160.26,389.87 L160.77,390.41 L161.31,390.92 L161.87,391.41 L162.45,391.88 L163.04,392.34 L163.64,392.79 L164.25,393.21 L164.88,393.61 L165.53,393.97 L166.19,394.29 L166.88,394.58 L167.57,394.86 L168.27,395.11 L168.98,395.35 L169.7,395.55 L170.42,395.72 L171.15,395.86 L171.89,395.97 L172.64,396.05 L173.38,396.14 L174.13,396.21 L174.87,396.29 L175.62,396.36 L176.36,396.44 L177.11,396.51 L177.86,396.58 L178.6,396.65 L179.35,396.71 L180.1,396.76 L180.85,396.8 L181.6,396.83 L182.35,396.85 L183.1,396.88 L183.85,396.9 L184.6,396.91 L185.35,396.93 L186.09,396.95 L186.84,396.97 L187.59,396.99 L188.34,397.01 L189.09,397.03 L189.84,397.05 L190.59,397.06 L191.34,397.08 L192.09,397.1 L192.84,397.12 L193.59,397.14 L194.34,397.16 L195.09,397.18 L195.84,397.2 L196.59,397.21 L197.34,397.23 L198.09,397.25 L198.84,397.27 L199.59,397.28 L200.34,397.3 L201.09,397.31 L201.84,397.32 L202.59,397.33 L203.34,397.34 L204.09,397.35 L204.84,397.36 L205.59,397.37 L206.34,397.38 L207.09,397.39 L207.84,397.4 L208.59,397.41 L209.34,397.42 L210.09,397.43 L210.84,397.44 L211.59,397.45 L212.34,397.46 L213.09,397.47 L213.84,397.48 L214.59,397.49 L215.34,397.5 L216.09,397.51 L216.84,397.52 L217.59,397.53 L218.34,397.54 L219.09,397.55 L219.84,397.56 L220.59,397.57 L221.34,397.58 L222.09,397.59 L222.84,397.6 L223.59,397.61 L224.34,397.62 L225.09,397.63 L225.84,397.64 L226.59,397.65 L227.34,397.66 L228.09,397.67 L228.84,397.68 L229.59,397.69 L230.34,397.7 L231.09,397.71 L231.84,397.72 L232.59,397.73 L233.34,397.74 L234.09,397.75 L234.84,397.76 L235.59,397.77 L236.34,397.78 L237.09,397.79 L237.84,397.79 L238.59,397.8 L239.34,397.81 L240.09,397.82 L240.84,397.83 L241.59,397.84 L242.34,397.85 L243.09,397.86 L243.84,397.87 L244.59,397.88 L245.34,397.88 L246.09,397.89 L246.84,397.9 L247.59,397.91 L248.34,397.92 L249.09,397.93 L249.84,397.94 L250.59,397.95 L251.34,397.96 L252.09,397.97 L252.84,397.97 L253.59,397.98 L254.34,397.99 L255.09,398 L255.84,398.01 L256.59,398.02 L257.34,398.03 L258.09,398.04 L258.84,398.05 L259.59,398.06 L260.34,398.06 L261.09,398.07 L261.84,398.08 L262.59,398.09 L263.34,398.1 L264.09,398.11 L264.84,398.12 L265.59,398.13 L266.34,398.14 L267.09,398.15 L267.84,398.15 L268.59,398.16 L269.34,398.17 L270.09,398.18 L270.83,398.19 L271.58,398.2 L272.33,398.21 L273.08,398.22 L273.83,398.23 L274.58,398.24 L275.33,398.24 L276.08,398.25 L276.83,398.26 L277.58,398.27 L278.33,398.28 L279.08,398.29 L279.83,398.29 L280.58,398.3 L281.33,398.31 L282.08,398.31 L282.83,398.31 L283.58,398.32 L284.33,398.32 L285.08,398.32 L285.83,398.33 L286.58,398.33 L287.33,398.34 L288.08,398.34 L288.83,398.34 L289.58,398.35 L290.33,398.35 L291.08,398.35 L291.83,398.36 L292.58,398.36 L293.33,398.36 L294.08,398.37 L294.83,398.37 L295.58,398.37 L296.33,398.38 L297.08,398.38 L297.83,398.39 L298.58,398.39 L299.33,398.39 L300.08,398.4 L300.83,398.4 L301.58,398.4 L302.33,398.41 L303.08,398.41 L303.83,398.41 L304.58,398.42 L305.33,398.42 L306.08,398.43 L306.83,398.43 L307.58,398.43 L308.33,398.44 L309.08,398.44 L309.83,398.44 L310.58,398.45 L311.33,398.45 L312.08,398.45 L312.83,398.46 L313.58,398.46 L314.33,398.46 L315.08,398.47 L315.83,398.47 L316.58,398.48 L317.33,398.48 L318.08,398.48 L318.83,398.49 L319.58,398.49 L320.33,398.49 L321.08,398.5 L321.58,398.5" fill="none" stroke="#f8b8f8" stroke-width="1.0" stroke-linecap="round" stroke-linejoin="round" opacity="1.0"/>
<path d="M56.9,354.7 L57.33,354.09 L57.76,353.47 L58.19,352.86 L58.62,352.25 L59.07,351.64 L59.52,351.05 L59.99,350.47 L60.48,349.9 L60.99,349.35 L61.5,348.81 L62.03,348.28 L62.56,347.75 L63.11,347.24 L63.67,346.75 L64.24,346.28 L64.85,345.85 L65.47,345.46 L66.12,345.08 L66.78,344.72 L67.44,344.37 L68.1,344.02 L68.76,343.67 L69.43,343.32 L70.09,342.97 L70.75,342.61 L71.41,342.25 L72.06,341.89 L72.71,341.52 L73.35,341.14 L73.97,340.73 L74.56,340.29 L75.11,339.8 L75.64,339.28 L76.13,338.73 L76.61,338.15 L77.07,337.56 L77.5,336.96 L77.92,336.34 L78.33,335.71 L78.72,335.07 L79.11,334.43 L79.51,333.8 L79.91,333.16 L80.31,332.53 L80.72,331.91 L81.14,331.28 L81.57,330.67 L82.01,330.07 L82.48,329.49 L82.97,328.92 L83.47,328.37 L84,327.84 L84.53,327.32 L85.08,326.81 L85.65,326.31 L86.22,325.83 L86.8,325.36 L87.39,324.91 L88,324.46 L88.61,324.04 L89.24,323.64 L89.89,323.26 L90.1,323.14" fill="none" stroke="#1a7a1a" stroke-width="3.3" stroke-linecap="round" stroke-linejoin="round"/><path d="M56.9,354.7 L57.33,354.09 L57.76,353.47 L58.19,352.86 L58.62,352.25 L59.07,351.64 L59.52,351.05 L59.99,350.47 L60.48,349.9 L60.99,349.35 L61.5,348.81 L62.03,348.28 L62.56,347.75 L63.11,347.24 L63.67,346.75 L64.24,346.28 L64.85,345.85 L65.47,345.46 L66.12,345.08 L66.78,344.72 L67.44,344.37 L68.1,344.02 L68.76,343.67 L69.43,343.32 L70.09,342.97 L70.75,342.61 L71.41,342.25 L72.06,341.89 L72.71,341.52 L73.35,341.14 L73.97,340.73 L74.56,340.29 L75.11,339.8 L75.64,339.28 L76.13,338.73 L76.61,338.15 L77.07,337.56 L77.5,336.96 L77.92,336.34 L78.33,335.71 L78.72,335.07 L79.11,334.43 L79.51,333.8 L79.91,333.16 L80.31,332.53 L80.72,331.91 L81.14,331.28 L81.57,330.67 L82.01,330.07 L82.48,329.49 L82.97,328.92 L83.47,328.37 L84,327.84 L84.53,327.32 L85.08,326.81 L85.65,326.31 L86.22,325.83 L86.8,325.36 L87.39,324.91 L88,324.46 L88.61,324.04 L89.24,323.64 L89.89,323.26 L90.1,323.14" fill="none" stroke="#50a050" stroke-width="0.8" stroke-linecap="round" stroke-linejoin="round" opacity="0.5"/>
<path d="M92.41,321.54 L93.07,321.2 L93.74,320.9 L94.43,320.67 L95.14,320.49 L95.87,320.36 L96.61,320.26 L97.35,320.18 L98.09,320.11 L98.84,320.06 L99.58,320.04 L100.33,320.04 L101.08,320.07 L101.82,320.13 L102.56,320.21 L103.3,320.31 L104.04,320.44 L104.77,320.59 L105.49,320.78 L106.21,320.98 L106.93,321.2 L107.64,321.43 L108.36,321.66 L109.07,321.88 L109.79,322.11 L110.5,322.32 L111.22,322.53 L111.94,322.74 L112.66,322.96 L113.38,323.18 L114.08,323.42 L114.78,323.68 L115.46,323.98 L116.13,324.3 L116.79,324.65 L117.45,325.02 L118.1,325.39 L118.75,325.76 L119.4,326.14 L120.05,326.51 L120.7,326.88 L121.35,327.26 L122,327.63 L122.65,328 L123.3,328.37 L123.96,328.73 L124.62,329.09 L125.28,329.45 L125.93,329.81 L126.6,330.17 L127.26,330.52 L127.92,330.87 L128.58,331.22 L129.25,331.55 L129.93,331.87 L130.61,332.18 L131.3,332.46 L132,332.74 L132.7,333.01 L133.4,333.27 L133.87,333.45" fill="none" stroke="#1a7a1a" stroke-width="3.3" stroke-linecap="round" stroke-linejoin="round"/><path d="M92.41,321.54 L93.07,321.2 L93.74,320.9 L94.43,320.67 L95.14,320.49 L95.87,320.36 L96.61,320.26 L97.35,320.18 L98.09,320.11 L98.84,320.06 L99.58,320.04 L100.33,320.04 L101.08,320.07 L101.82,320.13 L102.56,320.21 L103.3,320.31 L104.04,320.44 L104.77,320.59 L105.49,320.78 L106.21,320.98 L106.93,321.2 L107.64,321.43 L108.36,321.66 L109.07,321.88 L109.79,322.11 L110.5,322.32 L111.22,322.53 L111.94,322.74 L112.66,322.96 L113.38,323.18 L114.08,323.42 L114.78,323.68 L115.46,323.98 L116.13,324.3 L116.79,324.65 L117.45,325.02 L118.1,325.39 L118.75,325.76 L119.4,326.14 L120.05,326.51 L120.7,326.88 L121.35,327.26 L122,327.63 L122.65,328 L123.3,328.37 L123.96,328.73 L124.62,329.09 L125.28,329.45 L125.93,329.81 L126.6,330.17 L127.26,330.52 L127.92,330.87 L128.58,331.22 L129.25,331.55 L129.93,331.87 L130.61,332.18 L131.3,332.46 L132,332.74 L132.7,333.01 L133.4,333.27 L133.87,333.45" fill="none" stroke="#50a050" stroke-width="0.8" stroke-linecap="round" stroke-linejoin="round" opacity="0.5"/>
<path d="M57,232.6 L57.71,232.85 L58.41,233.11 L59.1,233.38 L59.78,233.68 L60.43,234.02 L61.06,234.41 L61.67,234.84 L62.25,235.29 L62.82,235.77 L63.38,236.27 L63.91,236.79 L64.43,237.33 L64.93,237.89 L65.41,238.46 L65.89,239.04 L66.36,239.62 L66.84,240.2 L67.31,240.78 L67.78,241.36 L68.26,241.95 L68.73,242.53 L69.21,243.1 L69.69,243.68 L70.16,244.26 L70.64,244.84 L71.12,245.41 L71.6,245.99 L72.08,246.57 L72.56,247.15 L73.04,247.72 L73.52,248.3 L73.99,248.88 L74.47,249.46 L74.94,250.04 L75.41,250.63 L75.87,251.22 L76.34,251.81 L76.8,252.39 L77.27,252.98 L77.73,253.57 L78.2,254.16 L78.66,254.75 L79.13,255.34 L79.6,255.92 L80.07,256.51 L80.54,257.09 L81.02,257.66 L81.5,258.24 L81.98,258.82 L82.46,259.39 L82.94,259.96 L83.43,260.54 L83.91,261.11 L84.39,261.69 L84.88,262.26 L85.36,262.83 L85.85,263.4 L86.34,263.97 L86.84,264.53 L87.33,265.09 L87.83,265.65 L88.33,266.21 L88.83,266.77 L89.33,267.33 L89.83,267.89 L90.33,268.45 L90.83,269.01 L91.33,269.56 L91.84,270.11 L92.36,270.66 L92.87,271.21 L93.39,271.75 L93.91,272.29 L94.43,272.83 L94.95,273.37 L95.48,273.9 L96,274.44 L96.53,274.97 L97.06,275.5 L97.59,276.03 L98.14,276.54 L98.69,277.05 L99.24,277.56 L99.8,278.06 L100.35,278.56 L100.91,279.06 L101.47,279.57 L102.03,280.07 L102.58,280.57 L103.14,281.07 L103.7,281.58 L104.25,282.08 L104.81,282.59 L105.36,283.09 L105.91,283.6 L106.47,284.1 L107.02,284.61 L107.58,285.11 L108.14,285.6 L108.72,286.08 L109.31,286.54 L109.91,286.99 L110.52,287.41 L111.14,287.83 L111.77,288.24 L112.4,288.64 L113.03,289.05 L113.67,289.45 L114.3,289.85 L114.93,290.26 L115.56,290.66 L116.2,291.06 L116.83,291.47 L117.46,291.87 L118.09,292.27 L118.73,292.67 L119.37,293.07 L120.01,293.45 L120.66,293.82 L121.32,294.17 L121.99,294.51 L122.66,294.82 L123.35,295.11 L124.04,295.36 L124.74,295.55 L125.45,295.68 L126.17,295.72 L126.9,295.7 L127.64,295.64 L128.37,295.54 L129.11,295.43 L129.85,295.3 L130.59,295.16 L131.32,295.01 L132.06,294.86 L132.79,294.71 L133.52,294.57 L134.25,294.45 L134.99,294.38 L135.72,294.36 L136.46,294.39 L137.19,294.47 L137.93,294.58 L138.66,294.72 L139.38,294.88 L140.09,295.08 L140.77,295.33 L141.42,295.65 L142.04,296.02 L142.64,296.46 L143.21,296.92 L143.77,297.41 L144.32,297.92 L144.86,298.44 L145.36,298.98 L145.84,299.55 L146.3,300.14 L146.73,300.75 L147.14,301.37 L147.55,302 L147.95,302.63 L148.35,303.27 L148.74,303.91 L149.12,304.55 L149.49,305.21 L149.85,305.86 L150.19,306.53 L150.53,307.2 L150.86,307.87 L151.2,308.54 L151.53,309.21 L151.86,309.89 L152.18,310.56 L152.51,311.24 L152.82,311.92 L153.13,312.6 L153.43,313.29 L153.73,313.98 L154.02,314.67 L154.3,315.36 L154.59,316.06 L154.87,316.75 L155.16,317.45 L155.44,318.14 L155.72,318.84 L156,319.53 L156.27,320.23 L156.54,320.93 L156.81,321.63 L157.08,322.33 L157.35,323.03 L157.62,323.73 L157.89,324.43 L158.16,325.13 L158.43,325.83 L158.69,326.53 L158.95,327.23 L159.21,327.94 L159.47,328.64 L159.73,329.34 L159.99,330.05 L160.25,330.75 L160.51,331.46 L160.77,332.16 L161.03,332.86 L161.29,333.57 L161.56,334.27 L161.82,334.97 L162.08,335.67 L162.34,336.38 L162.61,337.08 L162.87,337.78 L163.14,338.48 L163.4,339.18 L163.66,339.89 L163.93,340.59 L164.2,341.29 L164.47,341.99 L164.74,342.68 L165.03,343.37 L165.33,344.06 L165.65,344.74 L165.97,345.42 L166.3,346.09 L166.63,346.76 L166.97,347.43 L167.3,348.1 L167.64,348.77 L167.98,349.44 L168.32,350.11 L168.67,350.77 L169.03,351.43 L169.4,352.08 L169.79,352.72 L170.19,353.35 L170.6,353.98 L171.02,354.6 L171.43,355.23 L171.85,355.85 L172.27,356.47 L172.69,357.09 L173.12,357.7 L173.56,358.31 L174.01,358.91 L174.48,359.49 L174.96,360.07 L175.45,360.64 L175.94,361.2 L176.44,361.76 L176.94,362.32 L177.45,362.87 L177.97,363.41 L178.5,363.93 L179.05,364.43 L179.62,364.91 L180.21,365.37 L180.81,365.83 L181.41,366.28 L182.01,366.72 L182.61,367.16 L183.23,367.6 L183.84,368.02 L184.47,368.42 L185.11,368.8 L185.77,369.17 L186.43,369.52 L187.09,369.87 L187.76,370.21 L188.43,370.56 L189.09,370.9 L189.76,371.24 L190.43,371.58 L191.1,371.92 L191.77,372.26 L192.44,372.59 L193.11,372.92 L193.79,373.23 L194.48,373.54 L195.17,373.83 L195.86,374.12 L196.55,374.4 L197.25,374.68 L197.94,374.96 L198.64,375.24 L199.34,375.52 L200.03,375.8 L200.73,376.08 L201.42,376.36 L202.12,376.64 L202.82,376.92 L203.52,377.19 L204.22,377.46 L204.92,377.7 L205.63,377.94 L206.35,378.15 L207.07,378.34 L207.8,378.52 L208.53,378.69 L209.26,378.86 L209.99,379.02 L210.72,379.19 L211.46,379.36 L212.19,379.52 L212.92,379.69 L213.65,379.85 L214.38,380.02 L215.11,380.19 L215.84,380.35 L216.57,380.52 L217.31,380.69 L218.04,380.85 L218.77,381.02 L219.5,381.19 L220.23,381.35 L220.96,381.52 L221.69,381.69 L222.42,381.86 L223.15,382.02 L223.89,382.19 L224.62,382.36 L225.35,382.53 L226.08,382.69 L226.81,382.86 L227.54,383.03 L228.27,383.19 L229,383.36 L229.74,383.51 L230.47,383.66 L231.21,383.8 L231.95,383.92 L232.69,384.03 L233.43,384.14 L234.17,384.24 L234.92,384.34 L235.66,384.44 L236.4,384.54 L237.15,384.64 L237.89,384.74 L238.63,384.83 L239.38,384.93 L240.12,385.03 L240.86,385.13 L241.61,385.23 L242.35,385.33 L243.1,385.43 L243.84,385.52 L244.58,385.62 L245.33,385.71 L246.07,385.79 L246.82,385.87 L247.56,385.95 L248.31,386.02 L249.06,386.1 L249.8,386.17 L250.55,386.25 L251.3,386.32 L252.04,386.4 L252.79,386.47 L253.53,386.55 L254.28,386.62 L255.03,386.7 L255.77,386.77 L256.52,386.85 L257.27,386.93 L258.01,387 L258.76,387.08 L259.5,387.16 L260.25,387.24 L260.99,387.32 L261.74,387.41 L262.48,387.5 L263.23,387.59 L263.97,387.68 L264.72,387.77 L265.46,387.86 L266.21,387.94 L266.95,388.03 L267.7,388.12 L268.44,388.21 L269.19,388.3 L269.93,388.39 L270.68,388.48 L271.42,388.57 L272.16,388.66 L272.91,388.75 L273.65,388.84 L274.4,388.93 L275.14,389.02 L275.89,389.11 L276.63,389.19 L277.38,389.28 L278.12,389.37 L278.87,389.44 L279.61,389.51 L280.36,389.56 L281.11,389.6 L281.86,389.63 L282.61,389.65 L283.36,389.66 L284.11,389.68 L284.86,389.69 L285.61,389.71 L286.36,389.72 L287.11,389.74 L287.86,389.75 L288.61,389.77 L289.36,389.78 L290.11,389.79 L290.86,389.81 L291.61,389.82 L292.36,389.84 L293.11,389.85 L293.86,389.87 L294.61,389.88 L295.36,389.89 L296.11,389.91 L296.86,389.92 L297.61,389.94 L298.36,389.95 L299.1,389.97 L299.85,389.98 L300.6,390 L301.35,390.01 L302.1,390.02 L302.85,390.04 L303.6,390.05 L304.35,390.07 L305.1,390.08 L305.85,390.1 L306.6,390.11 L307.35,390.12 L308.1,390.14 L308.85,390.15 L309.6,390.17 L310.35,390.18 L311.1,390.2 L311.85,390.21 L312.6,390.23 L313.35,390.24 L314.1,390.25 L314.85,390.27 L315.6,390.28 L316.35,390.3 L317.1,390.31 L317.85,390.33 L318.6,390.34 L319.35,390.35 L320.1,390.37 L320.85,390.38 L321.6,390.4" fill="none" stroke="#720e72" stroke-width="3.8" stroke-linecap="round" stroke-linejoin="round"/><path d="M57,232.6 L57.71,232.85 L58.41,233.11 L59.1,233.38 L59.78,233.68 L60.43,234.02 L61.06,234.41 L61.67,234.84 L62.25,235.29 L62.82,235.77 L63.38,236.27 L63.91,236.79 L64.43,237.33 L64.93,237.89 L65.41,238.46 L65.89,239.04 L66.36,239.62 L66.84,240.2 L67.31,240.78 L67.78,241.36 L68.26,241.95 L68.73,242.53 L69.21,243.1 L69.69,243.68 L70.16,244.26 L70.64,244.84 L71.12,245.41 L71.6,245.99 L72.08,246.57 L72.56,247.15 L73.04,247.72 L73.52,248.3 L73.99,248.88 L74.47,249.46 L74.94,250.04 L75.41,250.63 L75.87,251.22 L76.34,251.81 L76.8,252.39 L77.27,252.98 L77.73,253.57 L78.2,254.16 L78.66,254.75 L79.13,255.34 L79.6,255.92 L80.07,256.51 L80.54,257.09 L81.02,257.66 L81.5,258.24 L81.98,258.82 L82.46,259.39 L82.94,259.96 L83.43,260.54 L83.91,261.11 L84.39,261.69 L84.88,262.26 L85.36,262.83 L85.85,263.4 L86.34,263.97 L86.84,264.53 L87.33,265.09 L87.83,265.65 L88.33,266.21 L88.83,266.77 L89.33,267.33 L89.83,267.89 L90.33,268.45 L90.83,269.01 L91.33,269.56 L91.84,270.11 L92.36,270.66 L92.87,271.21 L93.39,271.75 L93.91,272.29 L94.43,272.83 L94.95,273.37 L95.48,273.9 L96,274.44 L96.53,274.97 L97.06,275.5 L97.59,276.03 L98.14,276.54 L98.69,277.05 L99.24,277.56 L99.8,278.06 L100.35,278.56 L100.91,279.06 L101.47,279.57 L102.03,280.07 L102.58,280.57 L103.14,281.07 L103.7,281.58 L104.25,282.08 L104.81,282.59 L105.36,283.09 L105.91,283.6 L106.47,284.1 L107.02,284.61 L107.58,285.11 L108.14,285.6 L108.72,286.08 L109.31,286.54 L109.91,286.99 L110.52,287.41 L111.14,287.83 L111.77,288.24 L112.4,288.64 L113.03,289.05 L113.67,289.45 L114.3,289.85 L114.93,290.26 L115.56,290.66 L116.2,291.06 L116.83,291.47 L117.46,291.87 L118.09,292.27 L118.73,292.67 L119.37,293.07 L120.01,293.45 L120.66,293.82 L121.32,294.17 L121.99,294.51 L122.66,294.82 L123.35,295.11 L124.04,295.36 L124.74,295.55 L125.45,295.68 L126.17,295.72 L126.9,295.7 L127.64,295.64 L128.37,295.54 L129.11,295.43 L129.85,295.3 L130.59,295.16 L131.32,295.01 L132.06,294.86 L132.79,294.71 L133.52,294.57 L134.25,294.45 L134.99,294.38 L135.72,294.36 L136.46,294.39 L137.19,294.47 L137.93,294.58 L138.66,294.72 L139.38,294.88 L140.09,295.08 L140.77,295.33 L141.42,295.65 L142.04,296.02 L142.64,296.46 L143.21,296.92 L143.77,297.41 L144.32,297.92 L144.86,298.44 L145.36,298.98 L145.84,299.55 L146.3,300.14 L146.73,300.75 L147.14,301.37 L147.55,302 L147.95,302.63 L148.35,303.27 L148.74,303.91 L149.12,304.55 L149.49,305.21 L149.85,305.86 L150.19,306.53 L150.53,307.2 L150.86,307.87 L151.2,308.54 L151.53,309.21 L151.86,309.89 L152.18,310.56 L152.51,311.24 L152.82,311.92 L153.13,312.6 L153.43,313.29 L153.73,313.98 L154.02,314.67 L154.3,315.36 L154.59,316.06 L154.87,316.75 L155.16,317.45 L155.44,318.14 L155.72,318.84 L156,319.53 L156.27,320.23 L156.54,320.93 L156.81,321.63 L157.08,322.33 L157.35,323.03 L157.62,323.73 L157.89,324.43 L158.16,325.13 L158.43,325.83 L158.69,326.53 L158.95,327.23 L159.21,327.94 L159.47,328.64 L159.73,329.34 L159.99,330.05 L160.25,330.75 L160.51,331.46 L160.77,332.16 L161.03,332.86 L161.29,333.57 L161.56,334.27 L161.82,334.97 L162.08,335.67 L162.34,336.38 L162.61,337.08 L162.87,337.78 L163.14,338.48 L163.4,339.18 L163.66,339.89 L163.93,340.59 L164.2,341.29 L164.47,341.99 L164.74,342.68 L165.03,343.37 L165.33,344.06 L165.65,344.74 L165.97,345.42 L166.3,346.09 L166.63,346.76 L166.97,347.43 L167.3,348.1 L167.64,348.77 L167.98,349.44 L168.32,350.11 L168.67,350.77 L169.03,351.43 L169.4,352.08 L169.79,352.72 L170.19,353.35 L170.6,353.98 L171.02,354.6 L171.43,355.23 L171.85,355.85 L172.27,356.47 L172.69,357.09 L173.12,357.7 L173.56,358.31 L174.01,358.91 L174.48,359.49 L174.96,360.07 L175.45,360.64 L175.94,361.2 L176.44,361.76 L176.94,362.32 L177.45,362.87 L177.97,363.41 L178.5,363.93 L179.05,364.43 L179.62,364.91 L180.21,365.37 L180.81,365.83 L181.41,366.28 L182.01,366.72 L182.61,367.16 L183.23,367.6 L183.84,368.02 L184.47,368.42 L185.11,368.8 L185.77,369.17 L186.43,369.52 L187.09,369.87 L187.76,370.21 L188.43,370.56 L189.09,370.9 L189.76,371.24 L190.43,371.58 L191.1,371.92 L191.77,372.26 L192.44,372.59 L193.11,372.92 L193.79,373.23 L194.48,373.54 L195.17,373.83 L195.86,374.12 L196.55,374.4 L197.25,374.68 L197.94,374.96 L198.64,375.24 L199.34,375.52 L200.03,375.8 L200.73,376.08 L201.42,376.36 L202.12,376.64 L202.82,376.92 L203.52,377.19 L204.22,377.46 L204.92,377.7 L205.63,377.94 L206.35,378.15 L207.07,378.34 L207.8,378.52 L208.53,378.69 L209.26,378.86 L209.99,379.02 L210.72,379.19 L211.46,379.36 L212.19,379.52 L212.92,379.69 L213.65,379.85 L214.38,380.02 L215.11,380.19 L215.84,380.35 L216.57,380.52 L217.31,380.69 L218.04,380.85 L218.77,381.02 L219.5,381.19 L220.23,381.35 L220.96,381.52 L221.69,381.69 L222.42,381.86 L223.15,382.02 L223.89,382.19 L224.62,382.36 L225.35,382.53 L226.08,382.69 L226.81,382.86 L227.54,383.03 L228.27,383.19 L229,383.36 L229.74,383.51 L230.47,383.66 L231.21,383.8 L231.95,383.92 L232.69,384.03 L233.43,384.14 L234.17,384.24 L234.92,384.34 L235.66,384.44 L236.4,384.54 L237.15,384.64 L237.89,384.74 L238.63,384.83 L239.38,384.93 L240.12,385.03 L240.86,385.13 L241.61,385.23 L242.35,385.33 L243.1,385.43 L243.84,385.52 L244.58,385.62 L245.33,385.71 L246.07,385.79 L246.82,385.87 L247.56,385.95 L248.31,386.02 L249.06,386.1 L249.8,386.17 L250.55,386.25 L251.3,386.32 L252.04,386.4 L252.79,386.47 L253.53,386.55 L254.28,386.62 L255.03,386.7 L255.77,386.77 L256.52,386.85 L257.27,386.93 L258.01,387 L258.76,387.08 L259.5,387.16 L260.25,387.24 L260.99,387.32 L261.74,387.41 L262.48,387.5 L263.23,387.59 L263.97,387.68 L264.72,387.77 L265.46,387.86 L266.21,387.94 L266.95,388.03 L267.7,388.12 L268.44,388.21 L269.19,388.3 L269.93,388.39 L270.68,388.48 L271.42,388.57 L272.16,388.66 L272.91,388.75 L273.65,388.84 L274.4,388.93 L275.14,389.02 L275.89,389.11 L276.63,389.19 L277.38,389.28 L278.12,389.37 L278.87,389.44 L279.61,389.51 L280.36,389.56 L281.11,389.6 L281.86,389.63 L282.61,389.65 L283.36,389.66 L284.11,389.68 L284.86,389.69 L285.61,389.71 L286.36,389.72 L287.11,389.74 L287.86,389.75 L288.61,389.77 L289.36,389.78 L290.11,389.79 L290.86,389.81 L291.61,389.82 L292.36,389.84 L293.11,389.85 L293.86,389.87 L294.61,389.88 L295.36,389.89 L296.11,389.91 L296.86,389.92 L297.61,389.94 L298.36,389.95 L299.1,389.97 L299.85,389.98 L300.6,390 L301.35,390.01 L302.1,390.02 L302.85,390.04 L303.6,390.05 L304.35,390.07 L305.1,390.08 L305.85,390.1 L306.6,390.11 L307.35,390.12 L308.1,390.14 L308.85,390.15 L309.6,390.17 L310.35,390.18 L311.1,390.2 L311.85,390.21 L312.6,390.23 L313.35,390.24 L314.1,390.25 L314.85,390.27 L315.6,390.28 L316.35,390.3 L317.1,390.31 L317.85,390.33 L318.6,390.34 L319.35,390.35 L320.1,390.37 L320.85,390.38 L321.6,390.4" fill="none" stroke="#e09ce0" stroke-width="1.1" stroke-linecap="round" stroke-linejoin="round" opacity="1.0"/>
<path d="M57.1,316.3 L57.83,316.15 L58.56,316 L59.28,315.82 L59.98,315.6 L60.66,315.32 L61.3,314.99 L61.92,314.6 L62.51,314.16 L63.07,313.68 L63.58,313.17 L64.05,312.61 L64.45,312.01 L64.8,311.37 L65.11,310.7 L65.39,310.01 L65.66,309.31 L65.92,308.61 L66.17,307.9 L66.41,307.2 L66.64,306.48 L66.86,305.77 L67.07,305.05 L67.28,304.33 L67.48,303.6 L67.68,302.88 L67.88,302.16 L68.08,301.44 L68.29,300.72 L68.51,300 L68.75,299.29 L69.01,298.59 L69.29,297.9 L69.6,297.22 L69.92,296.54 L70.24,295.87 L70.58,295.2 L70.92,294.53 L71.26,293.86 L71.62,293.21 L72,292.56 L72.39,291.93 L72.8,291.3 L73.22,290.68 L73.66,290.09 L74.13,289.52 L74.64,288.99 L75.19,288.52 L75.78,288.09 L76.41,287.71 L77.06,287.36 L77.73,287.06 L78.41,286.81 L79.11,286.62 L79.83,286.5 L80.56,286.45 L81.29,286.45 L82.04,286.47 L82.78,286.52 L83.52,286.6 L84.24,286.72 L84.96,286.9 L85.65,287.12 L86.34,287.4 L87.01,287.71 L87.69,288.04 L88.35,288.38 L89.02,288.72 L89.69,289.07 L90.35,289.42 L91.01,289.77 L91.67,290.13 L92.32,290.5 L92.97,290.88 L93.61,291.26 L94.26,291.64 L94.9,292.03 L95.54,292.41 L96.19,292.8 L96.84,293.17 L97.49,293.54 L98.14,293.91 L98.8,294.26 L99.46,294.62 L100.12,294.97 L100.78,295.34 L101.43,295.71 L102.08,296.09 L102.72,296.47 L103.36,296.87 L104,297.26 L104.63,297.66 L105.27,298.05 L105.91,298.44 L106.56,298.81 L107.21,299.18 L107.88,299.52 L108.55,299.84 L109.24,300.14 L109.93,300.44 L110.62,300.72 L111.31,301 L112.01,301.28 L112.71,301.54 L113.4,301.78 L114.11,301.98 L114.82,302.11 L115.53,302.16 L116.26,302.13 L116.98,302.04 L117.71,301.92 L118.44,301.77 L119.17,301.59 L119.88,301.38 L120.57,301.13 L121.24,300.84 L121.9,300.5 L122.54,300.12 L123.18,299.72 L123.81,299.32 L124.43,298.91 L125.06,298.5 L125.69,298.1 L126.32,297.69 L126.96,297.29 L127.59,296.89 L128.01,296.62" fill="none" stroke="#7c14ea" stroke-width="3.8" stroke-linecap="round" stroke-linejoin="round"/><path d="M57.1,316.3 L57.83,316.15 L58.56,316 L59.28,315.82 L59.98,315.6 L60.66,315.32 L61.3,314.99 L61.92,314.6 L62.51,314.16 L63.07,313.68 L63.58,313.17 L64.05,312.61 L64.45,312.01 L64.8,311.37 L65.11,310.7 L65.39,310.01 L65.66,309.31 L65.92,308.61 L66.17,307.9 L66.41,307.2 L66.64,306.48 L66.86,305.77 L67.07,305.05 L67.28,304.33 L67.48,303.6 L67.68,302.88 L67.88,302.16 L68.08,301.44 L68.29,300.72 L68.51,300 L68.75,299.29 L69.01,298.59 L69.29,297.9 L69.6,297.22 L69.92,296.54 L70.24,295.87 L70.58,295.2 L70.92,294.53 L71.26,293.86 L71.62,293.21 L72,292.56 L72.39,291.93 L72.8,291.3 L73.22,290.68 L73.66,290.09 L74.13,289.52 L74.64,288.99 L75.19,288.52 L75.78,288.09 L76.41,287.71 L77.06,287.36 L77.73,287.06 L78.41,286.81 L79.11,286.62 L79.83,286.5 L80.56,286.45 L81.29,286.45 L82.04,286.47 L82.78,286.52 L83.52,286.6 L84.24,286.72 L84.96,286.9 L85.65,287.12 L86.34,287.4 L87.01,287.71 L87.69,288.04 L88.35,288.38 L89.02,288.72 L89.69,289.07 L90.35,289.42 L91.01,289.77 L91.67,290.13 L92.32,290.5 L92.97,290.88 L93.61,291.26 L94.26,291.64 L94.9,292.03 L95.54,292.41 L96.19,292.8 L96.84,293.17 L97.49,293.54 L98.14,293.91 L98.8,294.26 L99.46,294.62 L100.12,294.97 L100.78,295.34 L101.43,295.71 L102.08,296.09 L102.72,296.47 L103.36,296.87 L104,297.26 L104.63,297.66 L105.27,298.05 L105.91,298.44 L106.56,298.81 L107.21,299.18 L107.88,299.52 L108.55,299.84 L109.24,300.14 L109.93,300.44 L110.62,300.72 L111.31,301 L112.01,301.28 L112.71,301.54 L113.4,301.78 L114.11,301.98 L114.82,302.11 L115.53,302.16 L116.26,302.13 L116.98,302.04 L117.71,301.92 L118.44,301.77 L119.17,301.59 L119.88,301.38 L120.57,301.13 L121.24,300.84 L121.9,300.5 L122.54,300.12 L123.18,299.72 L123.81,299.32 L124.43,298.91 L125.06,298.5 L125.69,298.1 L126.32,297.69 L126.96,297.29 L127.59,296.89 L128.01,296.62" fill="none" stroke="#c090f8" stroke-width="1.0" stroke-linecap="round" stroke-linejoin="round" opacity="1.0"/>
<path d="M56.6,268.11 L57.3,268.36 L57.99,268.63 L58.66,268.94 L59.31,269.29 L59.93,269.68 L60.53,270.12 L61.11,270.58 L61.68,271.07 L62.23,271.58 L62.77,272.1 L63.31,272.62 L63.84,273.15 L64.37,273.68 L64.89,274.21 L65.41,274.75 L65.93,275.3 L66.44,275.85 L66.95,276.4 L67.46,276.95 L67.97,277.5 L68.47,278.05 L68.98,278.6 L69.49,279.16 L70,279.71 L70.51,280.26 L71.02,280.8 L71.53,281.35 L72.05,281.9 L72.56,282.45 L73.07,282.99 L73.59,283.54 L74.11,284.08 L74.63,284.61 L75.16,285.15 L75.69,285.68 L76.21,286.21 L76.74,286.75 L77.27,287.28 L77.79,287.82 L78.31,288.36 L78.82,288.91 L79.33,289.46 L79.83,290.02 L80.33,290.58 L80.83,291.14 L81.33,291.69 L81.84,292.24 L82.36,292.78 L82.89,293.31 L83.43,293.83 L83.97,294.35 L84.51,294.87 L85.06,295.39 L85.6,295.9 L86.15,296.42 L86.69,296.93 L87.24,297.44 L87.79,297.96 L88.34,298.46 L88.89,298.96 L89.46,299.46 L90.03,299.95 L90.6,300.43 L91.18,300.9 L91.77,301.37 L92.35,301.85 L92.93,302.32 L93.51,302.79 L94.1,303.26 L94.68,303.73 L95.27,304.19 L95.86,304.66 L96.46,305.11 L97.06,305.56 L97.66,306.01 L98.26,306.45 L98.87,306.9 L99.47,307.34 L100.08,307.78 L100.68,308.23 L101.29,308.67 L101.89,309.11 L102.5,309.55 L103.11,309.99 L103.71,310.43 L104.32,310.87 L104.93,311.31 L105.55,311.74 L106.16,312.17 L106.78,312.6 L107.39,313.03 L108,313.46 L108.62,313.89 L109.23,314.32 L109.85,314.75 L110.46,315.18 L111.08,315.61 L111.69,316.04 L112.31,316.47 L112.92,316.9 L113.53,317.34 L114.13,317.78 L114.73,318.23 L115.32,318.69 L115.91,319.16 L116.5,319.63 L117.08,320.1 L117.66,320.57 L118.24,321.04 L118.83,321.52 L119.41,321.99 L119.99,322.46 L120.57,322.94 L121.15,323.41 L121.73,323.88 L122.32,324.36 L122.9,324.83 L123.48,325.3 L124.06,325.77 L124.65,326.25 L125.23,326.72 L125.81,327.19 L126.39,327.66 L126.98,328.14 L127.56,328.61 L128.14,329.08 L128.73,329.55 L129.31,330.02 L129.9,330.48 L130.5,330.93 L131.11,331.36 L131.73,331.75 L132.38,332.1 L133.04,332.39 L133.72,332.6 L134.4,332.71 L135.1,332.71 L135.8,332.62 L136.5,332.45 L137.21,332.23 L137.91,331.99 L138.61,331.73 L139.32,331.47 L140.02,331.22 L140.73,330.99 L141.44,330.79 L142.17,330.62 L142.9,330.5 L143.63,330.42 L144.37,330.39 L145.11,330.42 L145.83,330.49 L146.54,330.64 L147.2,330.86 L147.82,331.17 L148.37,331.58 L148.86,332.08 L149.3,332.64 L149.71,333.25 L150.09,333.89 L150.45,334.54 L150.78,335.21 L151.09,335.89 L151.39,336.58 L151.68,337.27 L151.97,337.96 L152.25,338.65 L152.53,339.35 L152.79,340.05 L153.05,340.76 L153.3,341.46 L153.54,342.17 L153.78,342.88 L154.02,343.6 L154.25,344.31 L154.49,345.02 L154.73,345.73 L154.97,346.44 L155.23,347.14 L155.49,347.84 L155.77,348.54 L156.05,349.24 L156.33,349.93 L156.62,350.62 L156.91,351.32 L157.2,352.01 L157.49,352.7 L157.78,353.39 L158.09,354.07 L158.4,354.75 L158.72,355.43 L159.05,356.11 L159.37,356.78 L159.71,357.45 L160.04,358.13 L160.37,358.8 L160.71,359.47 L161.05,360.14 L161.39,360.8 L161.75,361.46 L162.12,362.11 L162.49,362.76 L162.88,363.41 L163.26,364.05 L163.65,364.69 L164.05,365.33 L164.45,365.96 L164.87,366.58 L165.3,367.19 L165.76,367.78 L166.23,368.36 L166.71,368.93 L167.2,369.5 L167.69,370.06 L168.19,370.62 L168.7,371.17 L169.22,371.72 L169.75,372.25 L170.29,372.77 L170.83,373.28 L171.39,373.78 L171.95,374.28 L172.52,374.76 L173.1,375.24 L173.69,375.7 L174.29,376.15 L174.89,376.6 L175.49,377.04 L176.1,377.49 L176.7,377.93 L177.31,378.37 L177.92,378.81 L178.53,379.23 L179.16,379.65 L179.79,380.03 L180.44,380.39 L181.11,380.73 L181.79,381.05 L182.47,381.36 L183.16,381.66 L183.84,381.96 L184.53,382.26 L185.22,382.56 L185.9,382.86 L186.59,383.16 L187.28,383.46 L187.97,383.76 L188.66,384.06 L189.35,384.35 L190.04,384.64 L190.73,384.91 L191.44,385.16 L192.15,385.39 L192.87,385.59 L193.59,385.78 L194.32,385.96 L195.05,386.14 L195.78,386.31 L196.51,386.48 L197.24,386.65 L197.97,386.82 L198.7,387 L199.43,387.17 L200.16,387.34 L200.89,387.51 L201.62,387.68 L202.35,387.86 L203.08,388.03 L203.81,388.19 L204.54,388.35 L205.28,388.5 L206.01,388.63 L206.75,388.75 L207.49,388.87 L208.24,388.97 L208.98,389.08 L209.72,389.18 L210.47,389.28 L211.21,389.39 L211.95,389.49 L212.69,389.59 L213.44,389.69 L214.18,389.8 L214.92,389.9 L215.67,390 L216.41,390.1 L217.15,390.21 L217.9,390.31 L218.64,390.4 L219.38,390.5 L220.13,390.59 L220.87,390.67 L221.62,390.74 L222.37,390.81 L223.11,390.88 L223.86,390.95 L224.61,391.02 L225.35,391.09 L226.1,391.16 L226.85,391.23 L227.59,391.3 L228.34,391.36 L229.09,391.43 L229.83,391.49 L230.58,391.55 L231.33,391.61 L232.08,391.66 L232.83,391.7 L233.58,391.75 L234.32,391.79 L235.07,391.83 L235.82,391.87 L236.57,391.91 L237.32,391.95 L238.07,391.99 L238.82,392.04 L239.57,392.08 L240.32,392.12 L241.06,392.16 L241.81,392.2 L242.56,392.24 L243.31,392.28 L244.06,392.32 L244.81,392.36 L245.56,392.41 L246.31,392.45 L247.05,392.49 L247.8,392.53 L248.55,392.57 L249.3,392.61 L250.05,392.65 L250.8,392.69 L251.55,392.74 L252.3,392.78 L253.05,392.82 L253.79,392.86 L254.54,392.9 L255.29,392.94 L256.04,392.98 L256.79,393.02 L257.54,393.06 L258.29,393.11 L259.04,393.15 L259.79,393.19 L260.53,393.22 L261.28,393.26 L262.03,393.3 L262.78,393.34 L263.53,393.38 L264.28,393.41 L265.03,393.45 L265.78,393.49 L266.53,393.53 L267.28,393.56 L268.03,393.6 L268.77,393.64 L269.52,393.68 L270.27,393.71 L271.02,393.75 L271.77,393.79 L272.52,393.83 L273.27,393.86 L274.02,393.9 L274.77,393.94 L275.52,393.98 L276.27,394.01 L277.01,394.05 L277.76,394.09 L278.51,394.12 L279.26,394.15 L280.01,394.17 L280.76,394.19 L281.51,394.21 L282.26,394.22 L283.01,394.23 L283.76,394.24 L284.51,394.24 L285.26,394.25 L286.01,394.26 L286.76,394.26 L287.51,394.27 L288.26,394.28 L289.01,394.29 L289.76,394.29 L290.51,394.3 L291.26,394.31 L292.01,394.32 L292.76,394.32 L293.51,394.33 L294.26,394.34 L295.01,394.34 L295.76,394.35 L296.51,394.36 L297.26,394.37 L298.01,394.37 L298.76,394.38 L299.51,394.39 L300.26,394.39 L301.01,394.4 L301.76,394.41 L302.51,394.42 L303.26,394.42 L304.01,394.43 L304.76,394.44 L305.51,394.44 L306.26,394.45 L307.01,394.46 L307.76,394.47 L308.51,394.47 L309.26,394.48 L310.01,394.49 L310.76,394.5 L311.51,394.5 L312.26,394.51 L313.01,394.52 L313.76,394.52 L314.51,394.53 L315.26,394.54 L316.01,394.55 L316.76,394.55 L317.51,394.56 L318.26,394.57 L319.01,394.57 L319.76,394.58 L320.51,394.59 L321.26,394.6 L321.51,394.6" fill="none" stroke="#10106a" stroke-width="3.7" stroke-linecap="round" stroke-linejoin="round"/><path d="M56.6,268.11 L57.3,268.36 L57.99,268.63 L58.66,268.94 L59.31,269.29 L59.93,269.68 L60.53,270.12 L61.11,270.58 L61.68,271.07 L62.23,271.58 L62.77,272.1 L63.31,272.62 L63.84,273.15 L64.37,273.68 L64.89,274.21 L65.41,274.75 L65.93,275.3 L66.44,275.85 L66.95,276.4 L67.46,276.95 L67.97,277.5 L68.47,278.05 L68.98,278.6 L69.49,279.16 L70,279.71 L70.51,280.26 L71.02,280.8 L71.53,281.35 L72.05,281.9 L72.56,282.45 L73.07,282.99 L73.59,283.54 L74.11,284.08 L74.63,284.61 L75.16,285.15 L75.69,285.68 L76.21,286.21 L76.74,286.75 L77.27,287.28 L77.79,287.82 L78.31,288.36 L78.82,288.91 L79.33,289.46 L79.83,290.02 L80.33,290.58 L80.83,291.14 L81.33,291.69 L81.84,292.24 L82.36,292.78 L82.89,293.31 L83.43,293.83 L83.97,294.35 L84.51,294.87 L85.06,295.39 L85.6,295.9 L86.15,296.42 L86.69,296.93 L87.24,297.44 L87.79,297.96 L88.34,298.46 L88.89,298.96 L89.46,299.46 L90.03,299.95 L90.6,300.43 L91.18,300.9 L91.77,301.37 L92.35,301.85 L92.93,302.32 L93.51,302.79 L94.1,303.26 L94.68,303.73 L95.27,304.19 L95.86,304.66 L96.46,305.11 L97.06,305.56 L97.66,306.01 L98.26,306.45 L98.87,306.9 L99.47,307.34 L100.08,307.78 L100.68,308.23 L101.29,308.67 L101.89,309.11 L102.5,309.55 L103.11,309.99 L103.71,310.43 L104.32,310.87 L104.93,311.31 L105.55,311.74 L106.16,312.17 L106.78,312.6 L107.39,313.03 L108,313.46 L108.62,313.89 L109.23,314.32 L109.85,314.75 L110.46,315.18 L111.08,315.61 L111.69,316.04 L112.31,316.47 L112.92,316.9 L113.53,317.34 L114.13,317.78 L114.73,318.23 L115.32,318.69 L115.91,319.16 L116.5,319.63 L117.08,320.1 L117.66,320.57 L118.24,321.04 L118.83,321.52 L119.41,321.99 L119.99,322.46 L120.57,322.94 L121.15,323.41 L121.73,323.88 L122.32,324.36 L122.9,324.83 L123.48,325.3 L124.06,325.77 L124.65,326.25 L125.23,326.72 L125.81,327.19 L126.39,327.66 L126.98,328.14 L127.56,328.61 L128.14,329.08 L128.73,329.55 L129.31,330.02 L129.9,330.48 L130.5,330.93 L131.11,331.36 L131.73,331.75 L132.38,332.1 L133.04,332.39 L133.72,332.6 L134.4,332.71 L135.1,332.71 L135.8,332.62 L136.5,332.45 L137.21,332.23 L137.91,331.99 L138.61,331.73 L139.32,331.47 L140.02,331.22 L140.73,330.99 L141.44,330.79 L142.17,330.62 L142.9,330.5 L143.63,330.42 L144.37,330.39 L145.11,330.42 L145.83,330.49 L146.54,330.64 L147.2,330.86 L147.82,331.17 L148.37,331.58 L148.86,332.08 L149.3,332.64 L149.71,333.25 L150.09,333.89 L150.45,334.54 L150.78,335.21 L151.09,335.89 L151.39,336.58 L151.68,337.27 L151.97,337.96 L152.25,338.65 L152.53,339.35 L152.79,340.05 L153.05,340.76 L153.3,341.46 L153.54,342.17 L153.78,342.88 L154.02,343.6 L154.25,344.31 L154.49,345.02 L154.73,345.73 L154.97,346.44 L155.23,347.14 L155.49,347.84 L155.77,348.54 L156.05,349.24 L156.33,349.93 L156.62,350.62 L156.91,351.32 L157.2,352.01 L157.49,352.7 L157.78,353.39 L158.09,354.07 L158.4,354.75 L158.72,355.43 L159.05,356.11 L159.37,356.78 L159.71,357.45 L160.04,358.13 L160.37,358.8 L160.71,359.47 L161.05,360.14 L161.39,360.8 L161.75,361.46 L162.12,362.11 L162.49,362.76 L162.88,363.41 L163.26,364.05 L163.65,364.69 L164.05,365.33 L164.45,365.96 L164.87,366.58 L165.3,367.19 L165.76,367.78 L166.23,368.36 L166.71,368.93 L167.2,369.5 L167.69,370.06 L168.19,370.62 L168.7,371.17 L169.22,371.72 L169.75,372.25 L170.29,372.77 L170.83,373.28 L171.39,373.78 L171.95,374.28 L172.52,374.76 L173.1,375.24 L173.69,375.7 L174.29,376.15 L174.89,376.6 L175.49,377.04 L176.1,377.49 L176.7,377.93 L177.31,378.37 L177.92,378.81 L178.53,379.23 L179.16,379.65 L179.79,380.03 L180.44,380.39 L181.11,380.73 L181.79,381.05 L182.47,381.36 L183.16,381.66 L183.84,381.96 L184.53,382.26 L185.22,382.56 L185.9,382.86 L186.59,383.16 L187.28,383.46 L187.97,383.76 L188.66,384.06 L189.35,384.35 L190.04,384.64 L190.73,384.91 L191.44,385.16 L192.15,385.39 L192.87,385.59 L193.59,385.78 L194.32,385.96 L195.05,386.14 L195.78,386.31 L196.51,386.48 L197.24,386.65 L197.97,386.82 L198.7,387 L199.43,387.17 L200.16,387.34 L200.89,387.51 L201.62,387.68 L202.35,387.86 L203.08,388.03 L203.81,388.19 L204.54,388.35 L205.28,388.5 L206.01,388.63 L206.75,388.75 L207.49,388.87 L208.24,388.97 L208.98,389.08 L209.72,389.18 L210.47,389.28 L211.21,389.39 L211.95,389.49 L212.69,389.59 L213.44,389.69 L214.18,389.8 L214.92,389.9 L215.67,390 L216.41,390.1 L217.15,390.21 L217.9,390.31 L218.64,390.4 L219.38,390.5 L220.13,390.59 L220.87,390.67 L221.62,390.74 L222.37,390.81 L223.11,390.88 L223.86,390.95 L224.61,391.02 L225.35,391.09 L226.1,391.16 L226.85,391.23 L227.59,391.3 L228.34,391.36 L229.09,391.43 L229.83,391.49 L230.58,391.55 L231.33,391.61 L232.08,391.66 L232.83,391.7 L233.58,391.75 L234.32,391.79 L235.07,391.83 L235.82,391.87 L236.57,391.91 L237.32,391.95 L238.07,391.99 L238.82,392.04 L239.57,392.08 L240.32,392.12 L241.06,392.16 L241.81,392.2 L242.56,392.24 L243.31,392.28 L244.06,392.32 L244.81,392.36 L245.56,392.41 L246.31,392.45 L247.05,392.49 L247.8,392.53 L248.55,392.57 L249.3,392.61 L250.05,392.65 L250.8,392.69 L251.55,392.74 L252.3,392.78 L253.05,392.82 L253.79,392.86 L254.54,392.9 L255.29,392.94 L256.04,392.98 L256.79,393.02 L257.54,393.06 L258.29,393.11 L259.04,393.15 L259.79,393.19 L260.53,393.22 L261.28,393.26 L262.03,393.3 L262.78,393.34 L263.53,393.38 L264.28,393.41 L265.03,393.45 L265.78,393.49 L266.53,393.53 L267.28,393.56 L268.03,393.6 L268.77,393.64 L269.52,393.68 L270.27,393.71 L271.02,393.75 L271.77,393.79 L272.52,393.83 L273.27,393.86 L274.02,393.9 L274.77,393.94 L275.52,393.98 L276.27,394.01 L277.01,394.05 L277.76,394.09 L278.51,394.12 L279.26,394.15 L280.01,394.17 L280.76,394.19 L281.51,394.21 L282.26,394.22 L283.01,394.23 L283.76,394.24 L284.51,394.24 L285.26,394.25 L286.01,394.26 L286.76,394.26 L287.51,394.27 L288.26,394.28 L289.01,394.29 L289.76,394.29 L290.51,394.3 L291.26,394.31 L292.01,394.32 L292.76,394.32 L293.51,394.33 L294.26,394.34 L295.01,394.34 L295.76,394.35 L296.51,394.36 L297.26,394.37 L298.01,394.37 L298.76,394.38 L299.51,394.39 L300.26,394.39 L301.01,394.4 L301.76,394.41 L302.51,394.42 L303.26,394.42 L304.01,394.43 L304.76,394.44 L305.51,394.44 L306.26,394.45 L307.01,394.46 L307.76,394.47 L308.51,394.47 L309.26,394.48 L310.01,394.49 L310.76,394.5 L311.51,394.5 L312.26,394.51 L313.01,394.52 L313.76,394.52 L314.51,394.53 L315.26,394.54 L316.01,394.55 L316.76,394.55 L317.51,394.56 L318.26,394.57 L319.01,394.57 L319.76,394.58 L320.51,394.59 L321.26,394.6 L321.51,394.6" fill="none" stroke="#9494ec" stroke-width="1.1" stroke-linecap="round" stroke-linejoin="round" opacity="1.0"/>
<g fill="none" stroke="#000" stroke-width="1.5">
<rect x="51" y="8" width="273.3" height="403"/>
<line x1="51" y1="210.2" x2="324.3" y2="210.2"/>
</g>
<path d="M46.2,202.1H51 M48.1,186.3H51 M46.2,170.5H51 M48.1,154.7H51 M46.2,138.9H51 M48.1,123.1H51 M46.2,107.3H51 M48.1,91.5H51 M46.2,75.7H51 M48.1,59.9H51 M46.2,44.1H51 M48.1,28.3H51 M46.2,12.5H51 M46.2,398.8H51 M48.1,381.02H51 M46.2,363.24H51 M48.1,345.46H51 M46.2,327.68H51 M48.1,309.89H51 M46.2,292.11H51 M48.1,274.33H51 M46.2,256.55H51 M48.1,238.77H51 M46.2,220.99H51 M54.7,411V415.6 M81.63,411V413.7 M108.56,411V415.6 M135.49,411V413.7 M162.41,411V415.6 M189.34,411V413.7 M216.27,411V415.6 M243.2,411V413.7 M270.13,411V415.6 M297.06,411V413.7 M323.99,411V415.6" stroke="#000" stroke-width="1.3" fill="none"/>
<text class="b" font-size="16.2" text-anchor="end" fill="#000" transform="translate(43.6,207.5) scale(1,1.05)">0</text>
<text class="b" font-size="16.2" text-anchor="end" fill="#000" transform="translate(43.6,175.9) scale(1,1.05)">2</text>
<text class="b" font-size="16.2" text-anchor="end" fill="#000" transform="translate(43.6,144.3) scale(1,1.05)">4</text>
<text class="b" font-size="16.2" text-anchor="end" fill="#000" transform="translate(43.6,112.7) scale(1,1.05)">6</text>
<text class="b" font-size="16.2" text-anchor="end" fill="#000" transform="translate(43.6,81.1) scale(1,1.05)">8</text>
<text class="b" font-size="16.2" text-anchor="end" fill="#000" transform="translate(43.6,49.5) scale(1,1.05)">10</text>
<text class="b" font-size="16.2" text-anchor="end" fill="#000" transform="translate(43.6,17.9) scale(1,1.05)">12</text>
<text class="b" font-size="16.2" text-anchor="end" fill="#000" transform="translate(43.6,404.2) scale(1,1.05)">0</text>
<text class="b" font-size="16.2" text-anchor="end" fill="#000" transform="translate(43.6,368.64) scale(1,1.05)">6</text>
<text class="b" font-size="16.2" text-anchor="end" fill="#000" transform="translate(43.6,333.08) scale(1,1.05)">12</text>
<text class="b" font-size="16.2" text-anchor="end" fill="#000" transform="translate(43.6,297.51) scale(1,1.05)">18</text>
<text class="b" font-size="16.2" text-anchor="end" fill="#000" transform="translate(43.6,261.95) scale(1,1.05)">24</text>
<text class="b" font-size="16.2" text-anchor="end" fill="#000" transform="translate(43.6,226.39) scale(1,1.05)">30</text>
<text class="b" font-size="16.2" text-anchor="middle" fill="#000" transform="translate(54.7,431.6) scale(1,1.03)">0</text>
<text class="b" font-size="16.2" text-anchor="middle" fill="#000" transform="translate(108.56,431.6) scale(1,1.03)">75</text>
<text class="b" font-size="16.2" text-anchor="middle" fill="#000" transform="translate(162.41,431.6) scale(1,1.03)">150</text>
<text class="b" font-size="16.2" text-anchor="middle" fill="#000" transform="translate(216.27,431.6) scale(1,1.03)">225</text>
<text class="b" font-size="16.2" text-anchor="middle" fill="#000" transform="translate(270.13,431.6) scale(1,1.03)">300</text>
<text class="b" font-size="16.2" text-anchor="middle" fill="#000" transform="translate(323.99,431.6) scale(1,1.03)">375</text>
<text class="b" font-size="20.5" text-anchor="middle" fill="#000" transform="translate(23.3,104) rotate(-90) scale(1,1.06)">M (emu/g)</text>
<text class="b" font-size="23" text-anchor="middle" fill="#000" transform="translate(18.2,308.2) rotate(-90)">M (emu/g)</text>
<text class="b" font-size="22.8" text-anchor="middle" fill="#000" transform="translate(188.3,452.9) scale(1,1.03)">Temperature (K)</text>
<line x1="80.3" y1="16.8" x2="115.8" y2="16.8" stroke="#000" stroke-width="1.6"/>
<circle cx="98.7" cy="16.8" r="1.5" fill="#000"/>
<text class="b" font-size="15" x="119.7" y="22.1" fill="#000">ZFC</text>
<line x1="80.3" y1="39.2" x2="115.8" y2="39.2" stroke="#e01818" stroke-width="1.6"/>
<circle cx="98.7" cy="39.2" r="1.5" fill="#e01818"/>
<text class="b" font-size="15" x="119.7" y="44.5" fill="#e01818">FC</text>
<text class="b" font-size="16.8" x="79.5" y="62.7" fill="#1a6e1a">@100 Oe</text>
<line x1="198.1" y1="222.8" x2="230.7" y2="222.8" stroke="#a4a4b8" stroke-width="1.6"/>
<circle cx="214.4" cy="222.8" r="2.1" fill="#1818c8"/>
<text class="b" font-size="14" x="234.5" y="228" fill="#1c1cb0">ZFC @1 kOe</text>
<line x1="198.1" y1="240.9" x2="230.7" y2="240.9" stroke="#e4b4e4" stroke-width="1.6"/>
<circle cx="214.4" cy="240.9" r="2.1" fill="#e020e0"/>
<text class="b" font-size="14" x="234.5" y="246.1" fill="#e020e0">FC @1 kOe</text>
<line x1="198.1" y1="259" x2="230.7" y2="259" stroke="#a8c8a8" stroke-width="1.6"/>
<circle cx="214.4" cy="259" r="2.1" fill="#1a7a1a"/>
<text class="b" font-size="14" x="234.5" y="264.2" fill="#1a6e1a">ZFC @10 kOe</text>
<line x1="198.1" y1="277.1" x2="230.7" y2="277.1" stroke="#8c8ca4" stroke-width="1.6"/>
<circle cx="214.4" cy="277.1" r="2.1" fill="#20206a"/>
<text class="b" font-size="14" x="234.5" y="282.3" fill="#20207a">FC @10 kOe</text>
<line x1="198.1" y1="295.2" x2="230.7" y2="295.2" stroke="#c8b0e0" stroke-width="1.6"/>
<circle cx="214.4" cy="295.2" r="2.1" fill="#9030e0"/>
<text class="b" font-size="14" x="234.5" y="300.4" fill="#8020e0">ZFC @20 kOe</text>
<line x1="198.1" y1="313.3" x2="230.7" y2="313.3" stroke="#c8a8c8" stroke-width="1.6"/>
<circle cx="214.4" cy="313.3" r="2.1" fill="#701a70"/>
<text class="b" font-size="14" x="234.5" y="318.5" fill="#702070">FC @20 kOe</text>
<text class="b" font-size="20.5" x="289.4" y="185.4" fill="#6a0c0c">(a)</text>
<text class="b" font-size="22.3" x="269.2" y="364.2" fill="#6a0c0c">(b)</text>
<text class="b" font-size="17.5" x="65.8" y="229" fill="#6a0c0c">T</text>
<text class="b" font-size="12" x="77.3" y="234" fill="#6a0c0c">C3</text>
<line x1="75.2" y1="237.2" x2="75.2" y2="273.7" stroke="#6a0c0c" stroke-width="1.3"/>
<path d="M73,270.7 L77.4,270.7 L75.2,277.7 Z" fill="#6a0c0c"/>
<rect x="169.7" y="11" width="149.1" height="106.6" fill="#fff" stroke="none"/>
<path d="M169.7,52.2 C170.73,52.15 176.97,51.82 180,51.7 C183.03,51.58 197.1,51.12 200,51 C202.9,50.88 207.5,50.57 209,50.5 C210.5,50.43 214,50.42 215,50.3 C216,50.18 218.46,49.45 219,49.3 C219.54,49.15 220.04,49.05 220.4,48.8 C220.76,48.55 222.22,47.33 222.6,46.8 C222.98,46.27 223.99,44.26 224.2,43.5 C224.41,42.74 224.54,40.17 224.7,39.2 C224.86,38.23 225.53,34.66 225.8,33.8 C226.07,32.94 227.13,31.03 227.4,30.6 C227.67,30.17 228.28,30.04 228.5,29.5 C228.72,28.96 229.43,26.07 229.6,25.2 C229.77,24.33 230.05,21.66 230.2,20.8 C230.35,19.94 230.94,16.6 231.1,16.6 C231.26,16.6 231.7,18.76 231.8,20.8 C231.9,22.84 232.04,33.58 232.1,37 C232.16,40.42 232.33,51.47 232.4,55 C232.47,58.53 232.63,68.75 232.8,72.3 C232.97,75.85 233.86,86.73 234.1,90.5 C234.34,94.27 235.02,108.79 235.2,110 C235.38,111.21 235.74,105.31 235.9,102.6 C236.06,99.89 236.65,86.69 236.8,82.9 C236.95,79.11 237.29,67.28 237.4,64.7 C237.51,62.12 237.75,58.09 237.9,57.1 C238.05,56.11 238.66,54.91 238.9,54.8 C239.14,54.69 240.03,55.64 240.3,56 C240.57,56.36 241.29,58.3 241.6,58.4 C241.91,58.5 243.01,57.26 243.4,57 C243.79,56.74 245.09,56 245.5,55.8 C245.91,55.6 247.1,55.26 247.5,55 C247.9,54.74 249.02,53.56 249.5,53.2 C249.98,52.84 251.57,51.64 252.3,51.4 C253.03,51.16 250.15,50.86 256.8,50.8 C263.45,50.74 312.6,50.8 318.8,50.8" fill="none" stroke="#1c24c8" stroke-width="2.0" stroke-linecap="round" stroke-linejoin="round"/>
<rect x="169.7" y="11" width="149.1" height="106.6" fill="none" stroke="#000" stroke-width="1.2"/>
<path d="M171.8,117.6V120.6 M189.88,117.6V119.4 M207.95,117.6V120.6 M226.03,117.6V119.4 M244.1,117.6V120.6 M262.18,117.6V119.4 M280.25,117.6V120.6 M298.32,117.6V119.4 M316.4,117.6V120.6 M167.1,17.1H169.7 M167.1,34.2H169.7 M167.1,51.3H169.7 M167.1,68.4H169.7 M167.1,85.5H169.7 M167.1,102.6H169.7" stroke="#000" stroke-width="1" fill="none"/>
<g class="b" font-size="9.5" text-anchor="middle">
<text x="171.8" y="130.2">50</text>
<text x="207.95" y="130.2">100</text>
<text x="244.1" y="130.2">150</text>
<text x="280.25" y="130.2">200</text>
<text x="316.4" y="130.2">250</text>
</g>
<text class="b" font-size="13.7" text-anchor="middle" x="250" y="142.8">Temperature (K)</text>
<text class="b" font-size="12" text-anchor="middle" transform="translate(164.9,65) rotate(-90)">dM/dT</text>
<line x1="249.5" y1="23.7" x2="271.8" y2="23.7" stroke="#2030c0" stroke-width="1.4"/>
<circle cx="262" cy="23.7" r="1.4" fill="#2030c0"/>
<text class="b" font-size="12" x="274.5" y="27.8" fill="#1a2ab0">dM/dT</text>
<line x1="241.5" y1="76" x2="241.5" y2="66.4" stroke="#e01818" stroke-width="1.3"/>
<path d="M239.6,68.4 L243.4,68.4 L241.5,62.4 Z" fill="#e01818"/>
<text class="b" font-size="13.5" fill="#e01818" transform="translate(239.2,88.6) scale(1,1.1)">T</text>
<text class="b" font-size="11.3" fill="#e01818" transform="translate(247.3,90.7) scale(1,1.1)">C1</text>
<line x1="249.7" y1="109.7" x2="238.9" y2="109.7" stroke="#e01818" stroke-width="1.3"/>
<path d="M240.9,108 L240.9,111.4 L235.9,109.7 Z" fill="#e01818"/>
<text class="b" font-size="13.5" fill="#e01818" transform="translate(249.6,112.7) scale(1,1.1)">T</text>
<text class="b" font-size="11.3" fill="#e01818" transform="translate(257.8,116) scale(1,1.1)">C2</text>
</svg>
</body></html>
